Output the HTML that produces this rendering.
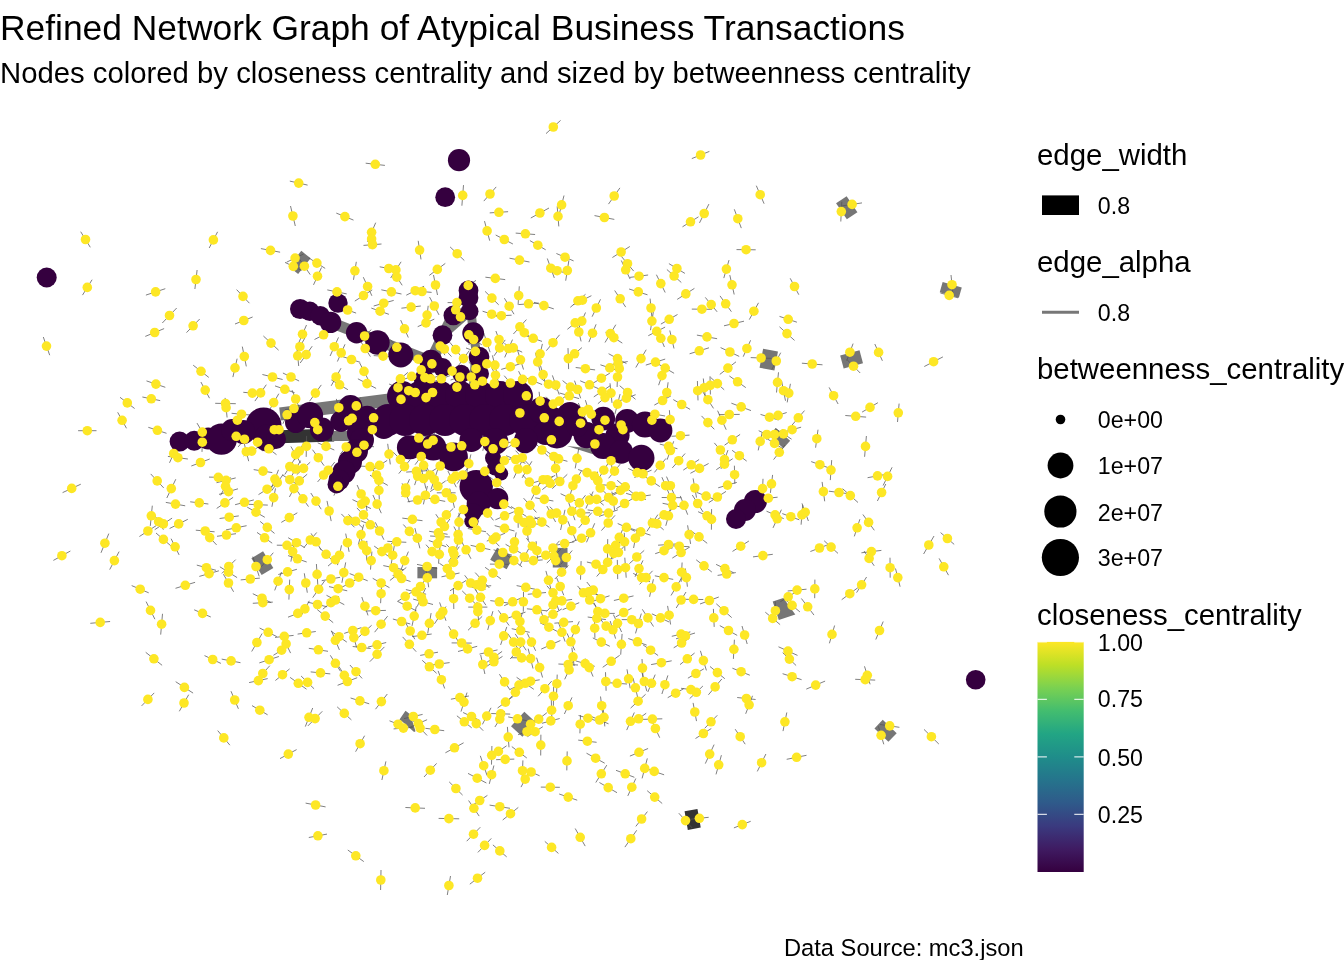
<!DOCTYPE html>
<html><head><meta charset="utf-8">
<style>
html,body{margin:0;padding:0;background:#fff;}
body{width:1344px;height:960px;position:relative;overflow:hidden;font-family:"Liberation Sans",Arial,sans-serif;color:#000;}
.t{position:absolute;white-space:nowrap;line-height:1;}
.lt{font-size:29.4px;}
.ll{font-size:23.2px;}
svg{position:absolute;left:0;top:0;}
</style></head><body>
<svg width="1344" height="960" viewBox="0 0 1344 960">
<defs>
<linearGradient id="vir" x1="0" y1="1" x2="0" y2="0">
<stop offset="0" stop-color="#35003f"/>
<stop offset="0.1" stop-color="#3f1b62"/>
<stop offset="0.2" stop-color="#3a3a7f"/>
<stop offset="0.3" stop-color="#2f5a8a"/>
<stop offset="0.4" stop-color="#25748c"/>
<stop offset="0.5" stop-color="#1f8d8a"/>
<stop offset="0.6" stop-color="#22a584"/>
<stop offset="0.7" stop-color="#43bd6f"/>
<stop offset="0.8" stop-color="#7ad151"/>
<stop offset="0.9" stop-color="#bddf26"/>
<stop offset="1" stop-color="#fde725"/>
</linearGradient>
</defs>
<g id="graph">
<path d="M330.6 322.4 L431 361.3" stroke="#777" stroke-width="11" fill="none" stroke-linecap="butt"/>
<path d="M300 309 L330 322" stroke="#555" stroke-width="6" fill="none" stroke-linecap="butt"/>
<path d="M453.4 315.4 L431 361.3" stroke="#777" stroke-width="12" fill="none" stroke-linecap="butt"/>
<path d="M469.6 311.3 L442.5 335.2" stroke="#777" stroke-width="9" fill="none" stroke-linecap="butt"/>
<path d="M473.2 333.1 L476 350 L473 392" stroke="#777" stroke-width="9" fill="none" stroke-linecap="butt"/>
<path d="M470 300 L473.2 333.1" stroke="#777" stroke-width="9" fill="none" stroke-linecap="butt"/>
<path d="M280 414 L405 398" stroke="#777" stroke-width="13" fill="none" stroke-linecap="butt"/>
<path d="M272 437 L334 435" stroke="#333" stroke-width="13" fill="none" stroke-linecap="butt"/>
<path d="M332 436 L352 436" stroke="#777" stroke-width="10" fill="none" stroke-linecap="butt"/>
<polygon points="567,446 608,450 608,459" fill="#777"/>
<rect x="293.7" y="252.4" width="12.0" height="20.0" fill="#767676" transform="rotate(38.7 299.7 262.4)"/>
<rect x="840.4" y="198.1" width="12.7" height="19.4" fill="#767676" transform="rotate(-33.7 846.7 207.8)"/>
<rect x="761.2" y="349.9" width="15.1" height="19.4" fill="#767676" transform="rotate(10.6 768.8 359.6)"/>
<rect x="770.0" y="433.0" width="19.2" height="10.2" fill="#767676" transform="rotate(41.5 779.6 438.1)"/>
<rect x="841.6" y="352.6" width="20.0" height="13.5" fill="#767676" transform="rotate(-14.9 851.6 359.4)"/>
<rect x="940.8" y="284.6" width="19.9" height="10.5" fill="#767676" transform="rotate(16 950.7 289.9)"/>
<rect x="255.5" y="553.3" width="13.7" height="19.6" fill="#767676" transform="rotate(-31.6 262.4 563.1)"/>
<rect x="417.4" y="567.0" width="19.7" height="11.3" fill="#767676" transform="rotate(0 427.3 572.6)"/>
<rect x="552.8" y="547.9" width="14.7" height="19.6" fill="#767676" transform="rotate(0 560.1 557.7)"/>
<rect x="494.9" y="548.9" width="13.9" height="19.0" fill="#767676" transform="rotate(-60 501.9 558.4)"/>
<rect x="513.6" y="716.5" width="19.6" height="15.5" fill="#767676" transform="rotate(-47.2 523.4 724.3)"/>
<rect x="879.6" y="721.1" width="11.9" height="19.4" fill="#767676" transform="rotate(-46 885.6 730.8)"/>
<rect x="686.1" y="809.9" width="13.1" height="19.0" fill="#333" transform="rotate(-9.9 692.6 819.4)"/>
<polygon points="772.7,601.6 783.4,598 795.3,614.6 778.8,620.1" fill="#767676"/>
<polygon points="405.5,710.8 410.4,714.5 415.5,731.2 414.1,732 402.8,722.1 399.5,719.6" fill="#767676"/>
<path d="M80.7 231.7L90.3 247.3M217.6 231.8L209.2 248.0M197.1 270.0L194.9 289.0M260.9 248.6L280.1 252.2M365.7 163.2L384.9 165.4M289.8 181.1L307.6 185.1M290.5 206.0L295.3 226.0M336.3 213.1L353.5 220.1M375.7 222.7L367.5 241.9M373.9 229.7L369.3 248.3M381.5 244.0L363.5 245.4M303.6 254.0L286.6 262.2M285.0 262.4L301.6 270.4M298.6 257.8L310.2 274.6M308.6 257.8L325.2 268.4M321.5 267.5L313.5 284.9M356.3 261.8L353.5 279.8M379.7 266.8L397.9 270.2M401.1 261.8L390.7 278.0M391.4 268.9L402.2 285.3M418.2 240.8L421.0 259.4M445.3 263.4L429.3 275.4M450.1 246.9L464.3 260.5M463.5 185.1L461.9 205.7M496.2 186.9L483.8 201.1M508.1 211.7L489.7 212.9M484.5 221.1L489.7 240.7M495.7 235.0L512.9 244.0M485.4 277.2L505.2 279.6M560.6 120.4L546.0 133.6M709.4 151.4L691.8 158.6M619.9 187.9L608.5 204.1M564.0 195.5L559.2 214.3M549.0 208.0L530.8 218.0M557.2 206.4L558.8 226.4M594.5 215.6L614.3 219.4M708.9 204.1L699.5 222.9M698.5 216.8L682.5 226.8M734.3 209.3L741.3 228.1M515.7 233.1L535.1 234.5M529.9 240.6L545.7 249.8M509.5 258.2L529.5 262.0M556.4 253.5L573.6 260.9M547.3 258.5L554.3 277.9M547.7 268.3L566.5 273.1M568.9 260.3L565.7 280.7M629.8 246.5L612.4 257.5M621.3 256.3L633.7 271.1M621.3 260.5L630.1 279.1M648.1 275.0L629.9 277.4M668.9 263.6L684.9 273.4M666.9 269.5L681.3 282.5M729.0 260.1L723.8 278.1M736.5 249.6L755.7 249.8M756.3 185.7L764.1 203.7M862.0 202.9L842.2 205.9M841.8 201.7L840.8 221.5M92.1 279.7L82.5 295.1M165.3 288.7L145.9 295.1M164.1 328.6L145.3 336.4M43.3 337.0L49.7 355.2M146.5 380.9L165.3 387.3M142.4 397.0L160.2 400.6M120.0 397.3L134.6 408.5M117.7 412.3L126.5 428.3M78.1 430.7L96.5 430.7M148.3 427.3L166.5 433.3M801.9 363.2L822.5 364.8M853.1 343.6L846.7 360.8M846.8 359.4L860.2 373.0M874.8 344.0L882.4 360.8M942.9 356.9L924.3 366.5M951.0 275.0L953.0 294.4M940.4 293.0L958.0 297.8M829.1 387.4L838.1 404.0M877.9 402.7L862.1 412.1M845.3 415.5L866.1 417.1M899.1 403.6L897.5 422.0M818.0 429.7L815.6 447.7M866.4 436.0L864.6 456.8M80.8 484.2L62.6 492.6M150.7 473.9L163.7 487.9M247.2 507.1L264.8 517.3M152.3 505.7L150.3 525.9M153.8 513.7L163.4 529.7M172.1 518.1L154.7 529.7M187.8 519.3L169.6 528.5M156.4 525.5L139.4 536.5M156.0 533.0L170.8 545.8M171.1 538.7L179.1 554.9M195.8 530.2L214.6 531.8M202.8 530.3L216.6 544.9M238.8 515.9L219.6 518.5M246.6 525.7L226.0 529.9M236.0 533.7L217.0 536.3M260.1 521.4L274.5 533.4M257.0 532.4L272.2 543.2M108.8 533.6L101.0 552.8M70.4 551.0L53.4 560.4M119.1 551.6L109.7 569.6M196.8 565.1L216.0 570.3M218.9 570.8L199.3 576.4M235.7 559.6L221.9 573.4M219.9 566.8L237.1 577.6M223.4 574.2L233.6 591.8M259.9 578.1L240.7 579.9M252.8 556.6L259.2 576.4M273.3 552.7L261.3 566.7M131.7 585.6L148.7 592.8M195.1 582.3L175.5 588.3M252.8 593.7L271.2 602.7M272.8 602.1L252.8 603.3M146.1 601.6L154.9 619.2M194.2 609.8L210.8 617.0M110.1 621.5L90.3 623.3M162.5 613.8L160.7 634.6M327.0 500.9L331.2 521.1M297.3 512.8L281.3 522.4M341.3 513.9L354.5 527.3M348.4 514.4L362.8 528.0M356.9 507.9L370.1 521.9M360.8 520.7L379.8 528.9M375.3 522.3L383.9 539.7M363.7 524.6L358.3 544.6M360.5 535.2L365.7 555.4M366.8 540.9L366.6 560.5M371.9 551.6L370.5 569.6M345.7 533.6L349.1 551.8M276.8 545.2L297.2 545.4M288.2 537.7L304.8 547.7M316.7 532.5L303.9 547.5M311.1 533.4L321.3 550.2M294.5 541.6L290.9 561.6M288.1 555.6L306.7 562.0M319.4 547.7L332.8 560.9M342.8 553.3L328.0 566.1M341.5 545.3L337.5 565.1M296.9 569.3L278.3 574.5M281.5 572.0L274.7 590.4M289.7 579.6L288.9 599.6M304.3 573.3L307.3 592.7M316.4 564.0L317.8 584.8M324.7 580.8L312.7 597.6M340.1 577.3L321.7 580.7M345.7 562.4L341.9 582.8M357.8 578.6L341.6 587.4M349.7 573.6L367.7 580.8M329.0 586.6L347.2 590.8M307.8 602.2L327.2 606.8M339.0 596.2L322.8 609.2M326.5 595.3L344.3 604.7M309.3 600.8L300.5 617.0M307.6 609.6L288.0 617.2M317.2 609.5L333.2 622.7M361.8 597.0L368.0 615.4M385.9 610.4L365.5 611.0M372.7 578.3L389.5 587.7M381.6 584.2L380.6 603.2M374.2 546.1L389.6 557.1M393.7 541.1L382.1 554.9M394.3 545.7L391.1 564.7M387.3 541.3L406.3 542.3M408.4 551.6L401.0 569.6M383.3 565.6L403.9 569.8M406.3 567.5L389.9 580.5M392.7 575.5L410.5 581.5M402.3 518.1L422.5 520.7M403.3 524.5L415.5 538.3M414.9 528.1L419.9 548.3M413.1 591.3L397.3 601.5M397.9 601.5L416.5 610.9M416.4 606.3L412.0 625.9M392.9 619.0L410.3 624.0M425.9 578.5L415.1 594.5M405.9 589.6L426.1 594.2M425.6 588.0L417.2 606.6M413.2 599.1L433.0 604.5M417.0 564.4L437.2 568.6M425.9 568.5L428.7 587.3M431.1 613.1L427.7 633.5M426.0 544.7L438.2 558.5M440.1 545.0L438.5 563.6M428.8 540.5L446.2 546.7M429.2 531.3L447.6 534.3M435.8 514.2L446.4 530.0M453.3 508.4L439.5 521.4M459.0 512.8L459.0 531.4M453.9 526.6L462.3 542.6M446.3 544.3L459.1 557.1M460.2 555.1L447.0 569.7M439.3 563.2L455.3 574.0M459.5 573.0L441.5 576.8M466.2 580.4L450.0 590.8M453.4 588.4L453.8 609.0M439.6 602.4L446.0 620.8M446.0 606.5L434.4 623.9M461.2 540.8L471.0 558.8M469.4 501.6L457.4 517.4M470.5 513.0L476.1 531.2M467.8 528.5L486.0 531.7M470.6 545.3L490.4 549.7M486.6 532.9L499.4 546.3M494.7 525.6L514.5 531.0M513.8 511.8L495.4 519.8M481.7 505.8L493.5 520.4M464.7 575.3L476.5 590.7M468.4 580.2L485.4 589.4M475.2 572.6L489.4 588.0M491.2 585.7L471.6 587.3M462.2 590.9L477.2 605.5M475.1 589.4L485.9 605.2M468.2 607.1L487.4 607.1M477.0 601.9L478.6 621.3M485.1 567.3L500.9 578.9M489.9 564.1L508.7 564.3M493.6 549.8L512.0 555.2M490.3 600.6L508.3 603.0M498.3 610.3L509.1 625.5M492.9 611.2L487.7 630.0M482.2 616.3L468.0 630.3M387.6 616.2L374.6 632.2M568.6 502.4L575.0 520.2M590.0 512.7L571.6 513.5M591.7 512.7L578.7 527.9M587.6 509.9L608.0 512.7M617.9 509.8L599.1 516.4M615.0 515.4L601.4 530.6M698.1 511.7L715.9 519.9M711.6 509.1L711.4 529.7M672.4 509.0L655.6 520.8M671.2 505.8L665.8 525.8M657.9 514.6L646.9 531.4M650.1 517.9L663.7 529.9M617.7 523.5L635.1 531.3M631.1 528.6L650.5 535.2M637.2 528.4L633.6 548.0M623.2 528.1L615.4 546.5M624.3 532.8L624.9 550.8M623.8 539.3L607.6 551.3M607.7 539.1L607.5 558.7M618.3 545.4L609.5 561.4M624.8 545.6L612.0 559.4M586.9 562.0L605.1 566.4M608.9 562.5L596.7 576.5M614.8 554.8L600.4 570.0M617.3 559.9L617.7 579.1M624.8 557.7L626.2 577.7M644.2 550.4L629.4 563.6M643.0 560.4L635.0 576.8M633.2 573.4L650.0 581.8M652.6 570.8L639.6 584.4M653.4 579.2L649.6 596.8M654.8 575.8L673.2 579.4M681.4 578.3L671.0 595.5M686.0 592.0L676.2 608.0M682.1 562.5L681.1 581.9M685.4 568.5L687.4 586.7M672.8 547.7L655.2 553.7M678.9 543.8L658.1 545.2M669.6 545.7L689.0 546.7M689.9 546.9L672.3 558.1M687.6 525.3L690.6 543.9M690.8 530.5L707.2 543.3M696.2 559.8L711.8 572.0M716.1 564.4L733.7 572.8M735.8 572.6L717.6 575.4M748.9 541.0L732.5 551.4M718.8 597.0L700.0 604.0M716.3 603.8L731.7 617.6M713.4 608.9L714.2 626.9M683.9 599.3L703.3 599.5M667.6 605.9L670.6 624.5M651.9 613.8L669.1 622.0M642.3 609.3L653.5 626.5M621.7 619.6L641.9 619.8M631.7 608.1L615.7 616.9M633.5 595.9L613.9 600.5M609.5 595.8L591.5 601.6M594.1 602.8L601.5 620.4M614.8 613.4L595.0 613.4M613.4 614.6L621.6 632.0M577.5 585.9L589.3 599.7M579.1 588.7L598.5 595.1M586.8 582.0L599.8 598.2M583.0 593.4L596.4 606.6M581.1 561.1L580.5 579.7M567.8 521.1L575.8 540.3M591.1 534.6L572.1 541.8M594.7 523.3L586.5 542.3M574.3 541.8L554.9 545.4M572.2 550.5L560.6 564.5M559.5 540.8L546.5 555.2M561.0 549.1L546.8 563.1M550.1 553.5L561.3 567.7M554.7 553.1L536.9 557.3M536.1 541.2L537.7 560.2M526.4 538.1L538.4 554.3M542.7 559.9L523.9 561.3M528.7 548.7L519.9 565.3M516.2 532.4L512.8 551.2M505.6 544.3L521.6 553.5M505.7 554.3L522.1 566.9M518.0 509.2L518.2 527.8M539.7 517.3L519.7 523.3M525.6 521.9L528.4 540.1M534.4 516.9L549.4 527.3M546.8 506.0L555.6 522.0M549.7 506.7L563.5 519.5M565.0 509.8L560.6 530.0M568.4 565.4L554.8 579.0M545.9 570.9L551.1 589.7M556.6 577.7L563.8 595.3M516.6 585.6L535.0 589.2M546.0 592.5L527.8 594.3M523.5 591.9L523.3 611.7M521.2 597.9L504.2 605.7M546.8 585.7L559.2 599.9M552.7 591.7L558.7 610.1M572.1 599.4L551.7 602.4M579.2 602.7L562.6 609.7M526.9 608.8L546.9 610.8M525.5 612.1L507.1 618.3M522.3 612.8L517.5 630.2M540.5 609.9L547.5 629.5M561.8 608.9L544.2 619.7M573.0 621.6L554.4 623.2M811.2 461.6L828.6 467.8M831.7 460.1L830.3 480.1M887.4 474.1L867.6 477.7M892.1 467.3L883.1 485.5M822.1 481.9L824.7 501.3M828.9 491.2L849.1 493.8M842.6 488.7L858.0 502.5M885.8 484.0L877.4 501.0M766.5 511.2L783.7 518.6M781.4 509.7L773.0 527.9M782.3 513.6L799.3 519.8M802.7 505.1L801.1 524.7M802.0 503.4L808.4 521.0M859.9 519.2L854.3 536.4M862.9 514.5L874.3 530.3M772.8 554.3L753.0 556.9M828.6 544.5L810.4 551.5M824.2 540.8L838.0 553.4M881.4 550.4L861.4 552.8M864.0 551.0L874.2 565.8M890.0 557.7L890.2 577.7M895.5 568.5L900.1 586.7M934.0 536.0L923.6 554.0M940.6 532.6L954.2 544.4M939.1 558.4L948.5 575.2M866.6 577.0L856.6 592.6M857.9 587.7L841.7 599.7M814.9 579.6L814.7 598.2M806.5 589.2L787.7 591.0M796.1 591.8L780.3 601.8M784.3 598.9L799.9 611.9M801.4 598.5L814.0 615.1M775.3 601.4L775.5 620.0M765.3 612.2L780.1 624.6M262.1 633.5L251.7 651.5M259.6 628.0L276.8 636.6M145.7 652.3L162.1 665.3M204.5 655.6L220.9 663.4M221.7 659.1L240.5 662.7M278.9 656.5L259.3 662.9M269.8 665.7L255.8 681.3M267.7 678.6L249.1 682.6M175.7 681.7L193.1 693.1M154.2 692.9L141.6 705.9M188.7 694.7L179.3 711.3M231.0 691.2L238.4 708.8M252.0 705.6L267.6 714.8M217.7 730.6L229.9 745.2M315.8 631.5L297.6 634.1M293.6 635.4L275.0 637.4M281.6 634.7L290.6 653.1M289.8 645.1L273.4 655.3M308.8 648.3L328.0 651.3M331.4 630.7L339.4 649.9M331.2 631.3L346.8 642.1M361.4 627.6L344.2 633.4M351.0 627.8L356.6 647.4M371.6 625.3L358.2 637.5M352.7 646.5L370.7 648.5M386.2 642.5L368.0 647.1M384.4 646.9L369.8 661.7M405.6 622.8L414.8 639.2M431.7 634.0L412.1 636.6M402.6 636.9L416.2 651.7M448.5 626.2L458.7 642.0M451.6 642.9L471.8 643.1M477.2 646.3L458.0 651.5M438.0 652.2L420.2 655.4M422.2 660.3L436.6 673.3M449.6 662.6L429.0 665.4M438.1 670.9L444.7 688.5M480.7 655.0L484.9 674.0M497.5 649.9L479.5 654.1M502.1 651.4L485.7 663.2M502.5 656.4L485.3 667.2M506.8 626.9L500.6 644.9M330.3 655.3L340.5 671.3M289.6 668.9L275.4 680.5M290.1 677.4L306.5 689.2M301.1 676.0L314.1 688.8M310.7 671.9L330.3 673.9M338.9 666.4L349.7 684.2M357.2 677.7L337.6 685.3M349.9 665.0L362.1 678.4M350.6 698.0L369.2 703.8M387.3 694.0L375.5 709.2M337.2 706.9L351.4 719.9M312.7 708.0L305.3 726.6M322.3 711.3L307.9 725.9M364.6 735.7L355.6 751.7M296.6 749.6L280.0 758.6M385.9 761.4L381.9 780.0M436.6 763.4L424.0 777.0M449.2 781.9L462.6 795.1M468.0 773.4L486.4 783.0M493.9 765.5L489.3 783.9M480.3 755.8L487.1 775.6M491.9 746.0L491.5 764.6M506.6 745.8L490.2 757.0M514.3 759.1L496.1 759.7M507.4 726.9L509.0 747.3M463.6 742.8L445.4 752.8M425.4 728.3L444.2 730.7M389.5 720.8L406.7 727.6M413.2 727.3L393.6 728.9M422.6 714.4L404.0 718.6M427.1 719.7L409.5 727.5M413.1 720.7L427.1 735.5M468.9 696.0L450.9 699.2M467.0 692.6L461.0 711.6M456.9 715.8L471.7 727.8M463.1 712.5L479.9 720.5M469.4 716.5L483.2 730.7M491.0 707.8L482.4 724.4M491.2 713.5L510.2 714.1M504.7 711.2L494.9 727.0M499.4 674.2L509.8 689.6M513.4 696.2L497.6 708.0M511.7 628.7L529.7 632.3M558.7 623.0L565.1 641.6M579.3 621.3L571.5 637.9M719.8 625.6L737.2 635.4M742.0 626.0L747.2 644.0M507.7 633.5L519.5 650.7M515.2 633.9L526.2 650.3M527.3 633.4L535.7 650.8M560.4 640.5L541.2 649.1M567.0 633.3L574.8 650.3M522.4 645.0L510.2 659.0M511.2 657.7L532.0 658.1M528.2 648.7L533.0 668.5M536.6 657.7L542.6 677.5M571.9 647.6L574.1 666.0M558.4 664.0L578.0 665.0M573.5 660.5L564.7 679.3M575.7 660.9L594.7 666.3M585.3 658.6L593.1 676.6M592.8 637.9L609.8 646.3M622.1 633.9L620.7 654.7M628.3 638.5L646.7 645.1M619.7 655.3L602.7 667.3M643.1 644.9L658.1 655.5M671.7 660.8L651.1 664.6M642.0 659.0L643.0 677.2M690.4 631.9L671.8 636.3M695.0 633.0L676.0 638.8M689.5 638.2L673.7 647.8M694.6 653.0L680.0 664.6M700.4 650.8L706.4 670.4M703.9 668.8L687.9 678.2M710.0 666.5L724.8 678.7M734.4 639.7L733.4 658.9M732.4 668.2L749.8 675.2M721.8 679.0L708.4 694.8M681.1 688.3L700.7 690.9M702.9 686.0L689.7 698.6M683.7 688.7L667.7 697.7M667.9 675.4L661.9 694.0M655.2 674.6L647.8 692.0M641.8 671.9L646.8 691.1M633.1 678.1L637.7 697.5M627.0 669.3L630.2 688.3M607.2 682.6L627.0 684.0M605.5 672.2L606.1 690.8M645.6 694.3L630.6 708.1M600.5 696.5L602.9 714.9M603.2 708.2L604.8 726.4M590.7 716.2L608.5 723.8M578.6 715.5L597.2 720.9M580.5 715.1L579.9 733.3M572.0 697.4L564.4 714.0M551.7 681.1L538.1 696.3M557.2 674.6L556.6 692.8M553.6 686.6L553.4 705.8M539.7 679.8L521.5 682.6M528.5 680.5L509.5 689.7M522.2 684.7L508.6 699.9M516.6 677.3L533.8 689.3M551.3 699.8L551.9 720.6M559.7 718.5L541.9 723.3M546.9 712.7L530.5 725.5M508.2 716.9L526.8 720.7M537.3 717.8L523.9 730.6M535.9 728.7L518.1 734.7M542.8 726.7L527.4 736.7M540.9 734.7L540.7 755.5M511.8 746.6L526.8 758.0M567.2 751.4L566.8 770.4M578.2 740.1L596.6 742.3M586.5 753.2L604.7 763.2M606.8 765.1L595.8 782.5M599.4 782.5L617.0 792.7M616.0 770.3L634.4 777.3M635.8 778.5L627.8 795.9M648.1 748.5L629.9 756.1M647.3 758.4L642.1 778.4M644.3 768.0L664.1 774.8M634.3 712.5L626.7 730.1M646.2 713.2L631.0 724.4M662.3 718.8L642.5 719.4M651.1 719.3L659.7 737.7M693.1 702.9L696.5 721.1M717.3 715.3L704.7 728.3M711.3 728.5L695.5 738.5M714.1 744.6L705.3 763.6M721.4 755.2L716.0 774.4M735.2 729.2L745.2 744.2M737.2 697.5L755.6 699.5M752.5 695.8L745.7 713.8M522.9 760.4L522.1 781.0M522.6 768.2L539.6 775.8M529.4 771.1L521.0 787.1M540.8 787.1L559.8 787.3M559.2 794.0L577.2 800.2M647.2 790.7L662.2 803.5M834.6 625.5L829.4 643.3M883.2 621.5L875.8 639.5M778.5 646.8L797.5 655.4M782.7 652.7L796.1 665.5M782.6 673.7L801.6 679.7M825.1 681.1L806.3 689.1M864.5 666.3L870.1 684.3M855.2 679.3L875.2 680.1M786.8 712.5L783.0 731.1M765.9 754.0L757.3 771.4M806.5 755.3L786.7 759.3M924.0 729.4L938.8 744.0M880.0 724.5L899.4 727.3M878.4 726.3L883.8 744.3M305.6 803.1L325.6 806.9M405.4 807.5L425.0 808.3M327.0 834.1L308.8 837.5M347.8 850.0L363.8 861.6M381.0 870.0L380.6 890.0M487.4 795.4L472.0 805.6M468.6 800.5L479.2 816.1M489.6 805.1L510.0 808.3M518.3 807.4L502.7 820.0M438.6 818.4L459.2 818.8M480.3 827.2L466.7 841.2M491.3 838.4L477.9 852.4M492.9 844.9L506.7 856.9M544.8 841.4L558.4 853.4M575.2 828.5L585.2 846.1M636.7 830.3L624.9 847.1M647.4 811.6L635.8 826.4M450.5 876.0L447.3 895.0M485.2 872.2L469.8 884.2M678.8 813.2L692.2 828.0M708.7 817.3L690.1 819.3M750.7 821.3L733.9 827.9M236.6 289.6L249.4 303.2M176.7 308.0L162.3 323.0M199.7 319.0L186.5 332.6M252.6 317.0L235.0 324.0M263.4 336.0L278.6 350.2M306.5 325.0L298.5 343.4M305.1 337.6L294.7 355.8M296.7 345.6L298.7 366.0M312.2 346.2L300.2 363.0M242.3 346.6L246.3 366.4M237.1 358.7L232.9 377.1M193.2 365.2L208.8 377.4M262.4 374.5L282.6 379.5M282.9 373.0L299.1 381.0M275.0 385.9L294.6 392.7M200.9 382.0L209.5 398.2M243.3 392.3L261.3 393.9M266.3 384.7L254.9 401.1M321.3 384.9L309.5 401.3M327.3 289.9L346.7 293.9M363.3 277.2L371.9 295.8M372.2 289.9L354.8 301.1M381.3 289.8L401.5 294.0M393.7 300.4L373.7 306.0M371.3 308.1L388.9 314.3M339.1 306.9L356.1 313.1M332.7 330.1L314.5 339.5M338.5 337.4L330.1 356.0M345.0 344.3L337.4 361.5M342.8 356.7L360.2 362.3M371.3 329.6L357.9 342.4M360.0 340.4L370.4 356.6M373.7 355.6L392.5 356.8M390.4 339.5L403.2 355.1M400.7 320.1L408.3 337.5M420.8 306.0L401.4 308.2M424.1 286.2L406.3 295.2M412.4 290.6L431.6 292.4M433.5 275.0L437.5 295.0M429.6 297.1L439.0 314.9M428.2 305.8L426.0 324.4M434.3 319.1L417.7 326.7M476.0 280.4L460.4 290.4M447.6 302.6L466.2 302.6M463.4 302.7L448.0 316.9M450.8 316.8L470.2 317.0M468.5 324.6L469.1 345.0M465.4 334.2L481.8 344.8M435.5 337.0L444.9 355.2M437.3 341.4L451.5 356.6M449.8 342.3L461.6 356.9M469.2 350.7L457.8 366.5M466.0 348.0L484.8 354.8M408.3 356.6L428.1 361.8M437.8 355.6L426.0 372.2M424.9 361.1L417.5 378.7M421.9 368.5L427.7 386.7M439.3 375.7L422.1 381.9M449.9 375.7L432.9 381.9M444.6 365.4L459.6 376.8M469.2 374.0L450.6 380.0M467.4 367.4L475.0 386.6M468.8 362.2L483.2 375.2M457.9 377.0L455.9 397.2M481.9 377.8L467.7 391.8M359.7 363.0L368.3 379.8M357.9 378.8L376.1 388.4M341.0 368.2L331.2 385.8M331.3 379.9L347.9 389.7M407.9 372.4L392.9 385.2M389.1 384.0L406.9 391.4M420.5 373.1L402.9 379.7M400.9 385.3L416.5 396.1M421.3 384.3L409.1 400.7M424.3 388.2L440.7 396.8M485.1 291.4L498.7 304.8M519.3 286.3L518.1 304.7M504.4 298.2L514.0 314.2M538.7 303.0L518.5 304.6M534.0 302.3L553.8 308.9M482.6 311.2L500.8 317.2M511.6 315.2L491.2 316.2M526.4 319.6L513.4 334.0M516.2 326.9L532.4 338.5M524.4 335.2L542.0 341.4M495.9 331.0L502.1 348.0M483.7 332.8L490.1 352.2M505.2 339.9L494.0 355.9M512.5 339.6L504.7 357.4M504.4 343.6L522.2 352.2M517.5 350.1L523.5 369.5M519.6 364.0L501.2 369.4M542.4 343.9L537.8 363.7M535.4 352.8L540.0 371.0M559.6 334.8L546.4 350.6M585.5 294.3L570.3 307.3M591.4 295.7L573.4 304.7M600.5 299.3L592.1 316.7M614.7 290.5L625.7 307.1M629.1 289.0L647.5 294.8M583.0 316.5L567.4 329.3M585.5 312.5L578.1 329.7M576.5 322.6L581.1 341.4M596.1 324.3L588.9 342.1M615.8 324.7L605.0 342.5M605.5 332.3L622.3 343.1M581.9 347.6L567.3 360.0M568.0 348.1L568.6 369.1M575.7 367.5L595.1 369.9M608.6 353.7L626.4 363.5M627.7 361.5L608.5 365.1M600.4 364.8L619.2 371.0M620.6 358.7L618.0 378.7M617.9 367.0L617.1 387.0M609.8 373.2L593.0 383.2M540.2 364.6L546.0 384.6M540.6 378.1L556.4 390.3M552.4 375.4L559.2 394.6M522.7 376.7L542.1 384.5M518.6 371.2L526.6 387.6M504.2 375.7L516.6 390.3M477.2 363.5L496.4 364.3M492.4 355.4L497.4 374.8M491.3 366.8L499.7 383.6M474.7 374.6L490.1 387.8M503.9 381.8L484.7 385.4M562.6 380.6L578.4 393.6M574.5 380.7L580.7 398.3M580.2 380.8L598.8 388.8M610.2 385.7L593.8 396.9M610.0 383.3L612.0 402.9M619.7 385.7L635.5 399.3M656.4 274.7L665.2 292.5M694.4 288.4L677.2 299.4M650.1 298.6L651.9 317.4M653.3 312.0L650.5 330.2M677.5 314.5L660.9 324.1M665.1 327.1L648.3 335.7M657.2 329.6L664.4 347.0M669.8 330.5L674.0 348.5M691.8 309.1L712.0 309.3M705.3 297.4L717.1 311.8M720.0 295.9L731.4 311.7M729.8 275.1L734.2 294.5M758.5 302.8L749.3 319.6M744.0 321.2L724.0 325.8M696.9 335.1L717.1 338.7M709.0 347.8L689.6 353.8M720.6 347.6L739.2 356.4M750.6 340.3L743.2 356.7M750.7 357.6L771.5 358.4M780.7 352.7L771.9 369.3M779.5 316.4L796.9 322.2M779.5 326.8L794.5 340.4M790.2 278.3L798.8 294.7M665.2 359.1L645.8 365.1M656.3 362.9L674.1 373.3M665.4 366.0L658.6 385.2M646.2 349.7L635.8 367.5M736.0 361.8L719.8 374.4M729.4 376.0L745.8 387.6M778.5 372.3L776.5 392.5M781.5 380.6L785.5 400.8M790.4 383.8L787.2 402.4M710.6 377.4L724.2 389.8M710.0 376.3L710.4 394.5M703.3 378.5L705.3 396.9M697.4 381.0L698.0 400.4M668.1 382.3L665.5 402.7M215.2 403.3L235.8 403.7M225.1 397.9L227.1 417.5M278.8 393.7L268.6 411.5M292.0 390.1L299.4 407.9M302.9 407.4L284.9 409.6M291.3 405.8L282.9 423.8M231.6 413.3L251.4 415.1M243.0 411.5L231.8 428.9M197.0 423.1L207.6 441.1M202.6 432.5L202.0 451.9M244.8 433.4L227.6 439.2M250.8 431.5L238.2 446.9M252.6 433.2L262.6 451.2M270.3 420.8L278.3 438.6M279.8 419.6L278.2 439.8M261.3 442.9L276.5 454.7M243.9 442.2L248.7 461.2M259.8 446.2L243.6 456.0M323.0 417.7L306.6 427.5M317.8 420.3L317.6 439.1M306.6 435.9L306.2 456.9M304.1 442.1L294.5 460.1M290.9 446.5L300.5 462.9M312.5 449.7L324.1 465.7M177.9 444.2L169.5 462.8M167.9 456.4L187.9 459.0M209.7 459.0L191.3 466.0M253.7 469.6L272.3 472.6M209.0 477.1L227.6 477.5M235.7 477.9L216.5 482.7M230.4 477.3L220.6 495.3M238.0 488.8L219.0 494.4M278.5 469.8L271.3 488.4M283.0 474.6L271.6 490.8M294.8 458.7L284.8 474.5M300.6 460.6L290.8 477.4M310.2 462.2L296.8 474.6M282.2 474.8L297.4 484.6M307.2 474.2L291.4 487.6M298.4 480.2L289.4 497.0M275.7 483.8L258.5 494.6M275.5 488.4L271.9 506.8M297.3 491.0L308.5 506.6M310.8 493.0L321.2 509.2M175.8 479.2L166.8 498.0M165.8 502.4L185.2 505.8M190.2 501.8L208.4 504.0M233.1 497.4L216.7 508.4M253.9 499.9L235.1 504.7M248.6 504.3L267.8 505.1M404.0 389.4L398.0 409.4M435.7 397.0L416.3 398.2M336.3 398.9L341.3 416.5M360.4 397.5L352.2 414.3M340.6 416.7L356.6 424.9M342.1 418.2L362.1 418.6M363.9 413.9L383.3 421.7M362.5 426.9L382.3 432.5M317.7 442.8L334.3 450.0M352.2 439.8L340.2 454.2M363.1 445.4L350.7 459.2M354.0 443.6L374.0 446.8M334.7 462.1L321.9 478.3M329.6 468.1L317.6 481.9M341.9 477.0L333.9 495.6M387.7 443.8L390.3 464.4M393.1 452.0L407.7 467.0M410.2 459.6L398.8 473.6M360.0 466.1L380.0 467.1M387.2 460.4L371.8 470.4M370.9 466.6L382.1 483.4M370.0 475.2L387.8 485.4M378.5 481.3L379.3 499.5M357.1 485.0L365.1 503.0M363.3 491.3L367.1 510.9M352.5 499.6L370.9 508.6M372.9 495.0L381.3 513.2M409.5 479.2L401.9 496.8M402.1 483.3L409.3 502.3M427.6 498.2L407.6 501.8M427.4 486.0L423.4 504.4M424.6 497.4L445.2 501.4M427.3 448.3L415.1 464.7M418.6 456.8L428.6 474.0M426.6 470.7L406.2 472.1M420.6 467.1L414.6 485.1M421.3 468.4L425.9 488.6M426.3 465.7L433.9 484.3M437.6 469.9L431.0 489.5M445.7 480.9L430.1 491.7M436.8 492.8L455.6 492.8M449.7 488.6L454.5 507.8M448.9 460.4L431.5 471.6M440.8 445.6L461.2 448.4M470.3 440.1L453.1 451.5M470.9 454.4L466.7 472.8M464.8 471.5L446.6 480.7M468.6 466.3L457.2 483.7M447.9 471.0L456.3 487.2M434.8 430.3L431.4 450.5M419.5 438.0L435.9 450.0M427.9 436.0L409.7 440.0M529.7 386.3L523.1 405.3M539.1 391.8L541.1 410.4M546.1 396.8L560.3 411.4M566.9 395.2L551.5 407.0M559.5 393.0L579.1 398.6M612.1 391.5L597.9 403.7M620.1 394.1L614.9 414.1M635.6 394.7L617.2 401.7M519.2 403.1L520.6 422.9M536.6 412.6L552.0 423.0M550.7 416.0L567.7 426.8M578.3 403.0L586.5 420.8M585.4 400.2L591.2 418.8M583.2 410.1L599.4 418.3M590.2 423.1L571.0 423.3M595.6 416.9L614.4 423.5M606.2 424.0L591.8 435.4M624.0 415.9L618.2 434.1M623.5 420.7L622.3 438.7M584.5 442.9L605.3 445.1M560.3 435.8L542.5 443.8M486.8 432.4L482.8 450.8M500.5 442.6L485.7 455.0M513.8 441.7L493.8 445.1M523.9 437.2L506.3 448.4M535.6 443.5L548.2 456.5M546.3 451.0L561.3 462.0M549.8 456.5L567.4 461.3M578.8 448.2L575.2 468.4M609.6 450.4L612.4 471.0M513.1 458.2L495.7 463.2M503.1 459.3L497.3 477.5M506.0 455.7L525.4 463.3M515.5 450.6L529.1 464.8M522.6 459.6L513.6 478.4M531.9 461.3L522.1 477.9M554.1 459.3L557.1 477.5M495.2 470.3L474.4 472.5M489.8 476.9L503.6 488.5M522.8 475.2L536.0 489.0M553.0 476.6L533.2 482.8M555.2 475.3L539.4 484.1M558.1 477.0L542.3 489.6M540.7 481.0L531.3 499.8M535.2 497.8L553.4 501.0M567.3 474.3L552.3 488.7M581.4 471.1L571.4 487.1M575.8 476.0L570.0 495.4M578.1 469.5L596.1 475.7M587.9 469.5L600.7 482.7M597.4 471.7L598.4 490.1M593.5 481.7L606.9 494.3M608.6 462.5L599.0 477.9M620.4 463.9L608.6 478.3M600.7 484.5L621.3 486.9M617.2 480.3L633.2 493.5M629.9 486.2L611.1 494.6M628.3 468.5L645.9 476.7M626.1 493.3L645.9 499.5M617.3 492.9L599.9 502.3M611.9 491.7L614.7 510.5M632.9 498.4L616.3 508.6M593.1 491.5L585.9 508.5M589.7 493.6L603.7 505.2M585.5 495.2L573.3 510.6M560.6 493.7L579.2 502.7M523.6 498.2L536.4 512.4M495.5 499.7L512.1 508.5M670.9 395.9L654.3 405.1M673.3 399.6L690.1 409.4M702.3 391.0L713.5 408.4M731.4 403.2L751.0 410.6M644.7 412.4L665.1 416.0M656.6 412.2L647.2 428.2M669.4 410.2L670.8 429.0M701.5 415.9L714.3 429.3M717.6 410.7L726.2 429.7M739.7 414.4L718.9 414.6M760.5 414.4L778.5 420.0M786.7 412.5L769.5 418.3M804.5 410.6L792.1 425.0M689.5 435.1L671.5 436.3M740.1 434.4L724.5 445.2M758.7 430.7L774.9 438.3M783.0 429.6L766.0 439.4M775.4 428.6L791.6 439.2M801.1 427.2L783.1 432.2M762.2 432.4L758.2 450.4M765.9 438.0L783.1 448.8M785.0 445.0L773.6 459.6M659.8 444.1L677.4 448.7M673.7 441.3L667.1 459.7M714.3 442.9L726.5 457.1M728.0 450.1L721.0 468.9M732.7 458.7L716.3 469.7M732.1 450.3L746.7 461.1M685.1 453.5L672.3 467.9M666.0 458.4L654.4 472.4M699.1 459.5L683.3 470.1M708.6 463.5L690.4 473.3M734.4 465.7L734.8 483.7M736.8 482.4L718.2 487.8M651.6 470.1L634.4 477.5M642.8 475.2L659.8 486.6M661.9 477.2L669.3 494.2M666.5 476.6L674.3 494.8M661.7 497.5L681.3 497.7M693.1 478.4L696.5 497.6M696.7 492.4L715.5 499.8M726.0 491.4L708.8 502.6M692.3 495.0L703.1 512.0M680.3 495.9L687.7 514.7M662.6 503.3L682.8 507.3M650.8 495.0L631.6 497.8M763.0 478.8L762.2 498.4M772.6 474.9L770.4 492.9M777.6 497.2L759.0 499.2M511.1 506.5L526.5 516.5M516.8 515.3L531.2 529.7M522.4 522.6L540.6 524.4M449.9 519.0L439.1 534.0M430.1 536.0L449.9 537.0M460.8 530.5L456.2 549.5M459.3 546.7L448.5 561.5M505.2 533.1L486.8 541.1M587.7 617.0L605.9 619.6M594.5 618.5L594.9 637.9M600.2 619.0L612.0 633.2M610.2 621.0L615.6 638.6M641.3 613.6L635.5 633.4M540.1 622.8L557.7 631.6M559.5 598.2L546.5 611.4" stroke="#555" stroke-width="1" stroke-opacity="0.75" fill="none"/>
<circle cx="46.7" cy="277.5" r="10.0" fill="#35003f"/>
<circle cx="459" cy="160.2" r="11.1" fill="#35003f"/>
<circle cx="445.2" cy="197.2" r="9.9" fill="#35003f"/>
<circle cx="975.7" cy="679.7" r="9.8" fill="#35003f"/>
<circle cx="179.6" cy="441.6" r="10" fill="#35003f"/>
<circle cx="194.2" cy="440.8" r="10" fill="#35003f"/>
<circle cx="208.2" cy="438.5" r="11" fill="#35003f"/>
<circle cx="221.4" cy="439.2" r="15.6" fill="#35003f"/>
<circle cx="232" cy="430" r="11" fill="#35003f"/>
<circle cx="263.6" cy="425.4" r="17.9" fill="#35003f"/>
<circle cx="267.1" cy="437.9" r="13.4" fill="#35003f"/>
<circle cx="276" cy="439" r="10" fill="#35003f"/>
<circle cx="295.7" cy="422.4" r="10.7" fill="#35003f"/>
<circle cx="310" cy="415.2" r="13.1" fill="#35003f"/>
<circle cx="321.9" cy="429.5" r="11.9" fill="#35003f"/>
<circle cx="341" cy="421.2" r="10.7" fill="#35003f"/>
<circle cx="350.5" cy="406.9" r="11.9" fill="#35003f"/>
<circle cx="367.1" cy="417.6" r="11.9" fill="#35003f"/>
<circle cx="360" cy="433.1" r="13.1" fill="#35003f"/>
<circle cx="383.8" cy="427.1" r="11.9" fill="#35003f"/>
<circle cx="394.5" cy="417.6" r="13.1" fill="#35003f"/>
<circle cx="408.8" cy="447.4" r="11.9" fill="#35003f"/>
<circle cx="362" cy="440" r="12" fill="#35003f"/>
<circle cx="356" cy="451" r="12" fill="#35003f"/>
<circle cx="350" cy="462" r="12" fill="#35003f"/>
<circle cx="344" cy="472" r="11.5" fill="#35003f"/>
<circle cx="339" cy="480" r="10.5" fill="#35003f"/>
<circle cx="336.5" cy="484.5" r="9" fill="#35003f"/>
<circle cx="300.1" cy="309" r="10.1" fill="#35003f"/>
<circle cx="309.8" cy="311.3" r="9.7" fill="#35003f"/>
<circle cx="320.2" cy="315.7" r="9.7" fill="#35003f"/>
<circle cx="330.6" cy="322.4" r="10.7" fill="#35003f"/>
<circle cx="338" cy="303.1" r="9.7" fill="#35003f"/>
<circle cx="356.6" cy="332.8" r="10.7" fill="#35003f"/>
<circle cx="377.5" cy="342.5" r="12.2" fill="#35003f"/>
<circle cx="400.8" cy="355" r="12.5" fill="#35003f"/>
<circle cx="468.5" cy="290.4" r="9.9" fill="#35003f"/>
<circle cx="468.5" cy="297.7" r="9.9" fill="#35003f"/>
<circle cx="469.6" cy="311.3" r="8.9" fill="#35003f"/>
<circle cx="453.4" cy="315.4" r="9.9" fill="#35003f"/>
<circle cx="442.5" cy="335.2" r="9.9" fill="#35003f"/>
<circle cx="473.2" cy="333.1" r="10.9" fill="#35003f"/>
<circle cx="479" cy="357.1" r="10.4" fill="#35003f"/>
<circle cx="431" cy="361.3" r="11.5" fill="#35003f"/>
<circle cx="442.5" cy="367.5" r="9.4" fill="#35003f"/>
<circle cx="461.3" cy="373.8" r="9" fill="#35003f"/>
<circle cx="480" cy="373.8" r="9" fill="#35003f"/>
<circle cx="424.2" cy="379.8" r="10.4" fill="#35003f"/>
<circle cx="402" cy="396" r="15" fill="#35003f"/>
<circle cx="420" cy="396" r="15" fill="#35003f"/>
<circle cx="440" cy="396" r="15" fill="#35003f"/>
<circle cx="460" cy="396" r="15" fill="#35003f"/>
<circle cx="480" cy="396" r="15" fill="#35003f"/>
<circle cx="500" cy="396" r="15" fill="#35003f"/>
<circle cx="518" cy="396" r="15" fill="#35003f"/>
<circle cx="388" cy="420" r="16" fill="#35003f"/>
<circle cx="405" cy="420" r="16" fill="#35003f"/>
<circle cx="425" cy="420" r="16" fill="#35003f"/>
<circle cx="445" cy="420" r="16" fill="#35003f"/>
<circle cx="465" cy="420" r="16" fill="#35003f"/>
<circle cx="485" cy="420" r="16" fill="#35003f"/>
<circle cx="505" cy="420" r="16" fill="#35003f"/>
<circle cx="525" cy="420" r="16" fill="#35003f"/>
<circle cx="410.7" cy="447.4" r="11.9" fill="#35003f"/>
<circle cx="433.3" cy="447.4" r="13.1" fill="#35003f"/>
<circle cx="453.6" cy="456.9" r="14.3" fill="#35003f"/>
<circle cx="471.4" cy="440.2" r="11.9" fill="#35003f"/>
<circle cx="495.2" cy="441.4" r="13.1" fill="#35003f"/>
<circle cx="525" cy="442.6" r="10.7" fill="#35003f"/>
<circle cx="545.2" cy="433.1" r="11.9" fill="#35003f"/>
<circle cx="526" cy="440" r="11.9" fill="#35003f"/>
<circle cx="541.4" cy="410.2" r="13.1" fill="#35003f"/>
<circle cx="556.9" cy="432.9" r="15.5" fill="#35003f"/>
<circle cx="570" cy="415" r="13.1" fill="#35003f"/>
<circle cx="586.7" cy="435.2" r="13.1" fill="#35003f"/>
<circle cx="603.3" cy="418.6" r="11.9" fill="#35003f"/>
<circle cx="627.1" cy="421" r="11.9" fill="#35003f"/>
<circle cx="645" cy="424.5" r="13.1" fill="#35003f"/>
<circle cx="660.5" cy="430.5" r="11.9" fill="#35003f"/>
<circle cx="617.6" cy="435.2" r="12" fill="#35003f"/>
<circle cx="577.1" cy="425.7" r="11" fill="#35003f"/>
<circle cx="554.5" cy="417.4" r="10" fill="#35003f"/>
<circle cx="243.3" cy="431.9" r="12" fill="#35003f"/>
<circle cx="603.3" cy="446" r="13.1" fill="#35003f"/>
<circle cx="621.2" cy="451.9" r="11.9" fill="#35003f"/>
<circle cx="641.4" cy="457.9" r="13.1" fill="#35003f"/>
<circle cx="493" cy="458" r="8" fill="#35003f"/>
<circle cx="495.2" cy="467.6" r="8" fill="#35003f"/>
<circle cx="501.2" cy="473.6" r="7" fill="#35003f"/>
<circle cx="476.2" cy="486.7" r="16.7" fill="#35003f"/>
<circle cx="497.6" cy="498.6" r="10.7" fill="#35003f"/>
<circle cx="478.6" cy="503.3" r="11.9" fill="#35003f"/>
<circle cx="473" cy="512" r="9" fill="#35003f"/>
<circle cx="471.4" cy="521.2" r="7.1" fill="#35003f"/>
<circle cx="755.4" cy="501.5" r="11.5" fill="#35003f"/>
<circle cx="745" cy="510" r="11" fill="#35003f"/>
<circle cx="736" cy="519" r="10" fill="#35003f"/>
<circle cx="85.5" cy="239.5" r="4.8" fill="#fde725"/>
<circle cx="213.4" cy="239.9" r="4.8" fill="#fde725"/>
<circle cx="196" cy="279.5" r="4.8" fill="#fde725"/>
<circle cx="270.5" cy="250.4" r="4.8" fill="#fde725"/>
<circle cx="375.3" cy="164.3" r="4.8" fill="#fde725"/>
<circle cx="298.7" cy="183.1" r="4.8" fill="#fde725"/>
<circle cx="292.9" cy="216.0" r="4.8" fill="#fde725"/>
<circle cx="344.9" cy="216.6" r="4.8" fill="#fde725"/>
<circle cx="371.6" cy="232.3" r="4.8" fill="#fde725"/>
<circle cx="371.6" cy="239.0" r="4.8" fill="#fde725"/>
<circle cx="372.5" cy="244.7" r="4.8" fill="#fde725"/>
<circle cx="295.1" cy="258.1" r="4.8" fill="#fde725"/>
<circle cx="293.3" cy="266.4" r="4.8" fill="#fde725"/>
<circle cx="304.4" cy="266.2" r="4.8" fill="#fde725"/>
<circle cx="316.9" cy="263.1" r="4.8" fill="#fde725"/>
<circle cx="317.5" cy="276.2" r="4.8" fill="#fde725"/>
<circle cx="354.9" cy="270.8" r="4.8" fill="#fde725"/>
<circle cx="388.8" cy="268.5" r="4.8" fill="#fde725"/>
<circle cx="395.9" cy="269.9" r="4.8" fill="#fde725"/>
<circle cx="396.8" cy="277.1" r="4.8" fill="#fde725"/>
<circle cx="419.6" cy="250.1" r="4.8" fill="#fde725"/>
<circle cx="437.3" cy="269.4" r="4.8" fill="#fde725"/>
<circle cx="457.2" cy="253.7" r="4.8" fill="#fde725"/>
<circle cx="462.7" cy="195.4" r="4.8" fill="#fde725"/>
<circle cx="490.0" cy="194.0" r="4.8" fill="#fde725"/>
<circle cx="498.9" cy="212.3" r="4.8" fill="#fde725"/>
<circle cx="487.1" cy="230.9" r="4.8" fill="#fde725"/>
<circle cx="504.3" cy="239.5" r="4.8" fill="#fde725"/>
<circle cx="495.3" cy="278.4" r="4.8" fill="#fde725"/>
<circle cx="553.3" cy="127.0" r="4.8" fill="#fde725"/>
<circle cx="700.6" cy="155.0" r="4.8" fill="#fde725"/>
<circle cx="614.2" cy="196.0" r="4.8" fill="#fde725"/>
<circle cx="561.6" cy="204.9" r="4.8" fill="#fde725"/>
<circle cx="539.9" cy="213.0" r="4.8" fill="#fde725"/>
<circle cx="558.0" cy="216.4" r="4.8" fill="#fde725"/>
<circle cx="604.4" cy="217.5" r="4.8" fill="#fde725"/>
<circle cx="704.2" cy="213.5" r="4.8" fill="#fde725"/>
<circle cx="690.5" cy="221.8" r="4.8" fill="#fde725"/>
<circle cx="737.8" cy="218.7" r="4.8" fill="#fde725"/>
<circle cx="525.4" cy="233.8" r="4.8" fill="#fde725"/>
<circle cx="537.8" cy="245.2" r="4.8" fill="#fde725"/>
<circle cx="519.5" cy="260.1" r="4.8" fill="#fde725"/>
<circle cx="565.0" cy="257.2" r="4.8" fill="#fde725"/>
<circle cx="550.8" cy="268.2" r="4.8" fill="#fde725"/>
<circle cx="557.1" cy="270.7" r="4.8" fill="#fde725"/>
<circle cx="567.3" cy="270.5" r="4.8" fill="#fde725"/>
<circle cx="621.1" cy="252.0" r="4.8" fill="#fde725"/>
<circle cx="627.5" cy="263.7" r="4.8" fill="#fde725"/>
<circle cx="625.7" cy="269.8" r="4.8" fill="#fde725"/>
<circle cx="639.0" cy="276.2" r="4.8" fill="#fde725"/>
<circle cx="676.9" cy="268.5" r="4.8" fill="#fde725"/>
<circle cx="674.1" cy="276.0" r="4.8" fill="#fde725"/>
<circle cx="726.4" cy="269.1" r="4.8" fill="#fde725"/>
<circle cx="746.1" cy="249.7" r="4.8" fill="#fde725"/>
<circle cx="760.2" cy="194.7" r="4.8" fill="#fde725"/>
<circle cx="852.1" cy="204.4" r="4.8" fill="#fde725"/>
<circle cx="841.3" cy="211.6" r="4.8" fill="#fde725"/>
<circle cx="87.3" cy="287.4" r="4.8" fill="#fde725"/>
<circle cx="155.6" cy="291.9" r="4.8" fill="#fde725"/>
<circle cx="154.7" cy="332.5" r="4.8" fill="#fde725"/>
<circle cx="46.5" cy="346.1" r="4.8" fill="#fde725"/>
<circle cx="155.9" cy="384.1" r="4.8" fill="#fde725"/>
<circle cx="151.3" cy="398.8" r="4.8" fill="#fde725"/>
<circle cx="127.3" cy="402.9" r="4.8" fill="#fde725"/>
<circle cx="122.1" cy="420.3" r="4.8" fill="#fde725"/>
<circle cx="87.3" cy="430.7" r="4.8" fill="#fde725"/>
<circle cx="157.4" cy="430.3" r="4.8" fill="#fde725"/>
<circle cx="812.2" cy="364.0" r="4.8" fill="#fde725"/>
<circle cx="849.9" cy="352.2" r="4.8" fill="#fde725"/>
<circle cx="853.5" cy="366.2" r="4.8" fill="#fde725"/>
<circle cx="878.6" cy="352.4" r="4.8" fill="#fde725"/>
<circle cx="933.6" cy="361.7" r="4.8" fill="#fde725"/>
<circle cx="952.0" cy="284.7" r="4.8" fill="#fde725"/>
<circle cx="949.2" cy="295.4" r="4.8" fill="#fde725"/>
<circle cx="833.6" cy="395.7" r="4.8" fill="#fde725"/>
<circle cx="870.0" cy="407.4" r="4.8" fill="#fde725"/>
<circle cx="855.7" cy="416.3" r="4.8" fill="#fde725"/>
<circle cx="898.3" cy="412.8" r="4.8" fill="#fde725"/>
<circle cx="816.8" cy="438.7" r="4.8" fill="#fde725"/>
<circle cx="865.5" cy="446.4" r="4.8" fill="#fde725"/>
<circle cx="71.7" cy="488.4" r="4.8" fill="#fde725"/>
<circle cx="157.2" cy="480.9" r="4.8" fill="#fde725"/>
<circle cx="256.0" cy="512.2" r="4.8" fill="#fde725"/>
<circle cx="151.3" cy="515.8" r="4.8" fill="#fde725"/>
<circle cx="158.6" cy="521.7" r="4.8" fill="#fde725"/>
<circle cx="163.4" cy="523.9" r="4.8" fill="#fde725"/>
<circle cx="178.7" cy="523.9" r="4.8" fill="#fde725"/>
<circle cx="147.9" cy="531.0" r="4.8" fill="#fde725"/>
<circle cx="163.4" cy="539.4" r="4.8" fill="#fde725"/>
<circle cx="175.1" cy="546.8" r="4.8" fill="#fde725"/>
<circle cx="205.2" cy="531.0" r="4.8" fill="#fde725"/>
<circle cx="209.7" cy="537.6" r="4.8" fill="#fde725"/>
<circle cx="229.2" cy="517.2" r="4.8" fill="#fde725"/>
<circle cx="236.3" cy="527.8" r="4.8" fill="#fde725"/>
<circle cx="226.5" cy="535.0" r="4.8" fill="#fde725"/>
<circle cx="267.3" cy="527.4" r="4.8" fill="#fde725"/>
<circle cx="264.6" cy="537.8" r="4.8" fill="#fde725"/>
<circle cx="104.9" cy="543.2" r="4.8" fill="#fde725"/>
<circle cx="61.9" cy="555.7" r="4.8" fill="#fde725"/>
<circle cx="114.4" cy="560.6" r="4.8" fill="#fde725"/>
<circle cx="206.4" cy="567.7" r="4.8" fill="#fde725"/>
<circle cx="209.1" cy="573.6" r="4.8" fill="#fde725"/>
<circle cx="228.8" cy="566.5" r="4.8" fill="#fde725"/>
<circle cx="228.5" cy="572.2" r="4.8" fill="#fde725"/>
<circle cx="228.5" cy="583.0" r="4.8" fill="#fde725"/>
<circle cx="250.3" cy="579.0" r="4.8" fill="#fde725"/>
<circle cx="256.0" cy="566.5" r="4.8" fill="#fde725"/>
<circle cx="267.3" cy="559.7" r="4.8" fill="#fde725"/>
<circle cx="140.2" cy="589.2" r="4.8" fill="#fde725"/>
<circle cx="185.3" cy="585.3" r="4.8" fill="#fde725"/>
<circle cx="262.0" cy="598.2" r="4.8" fill="#fde725"/>
<circle cx="262.8" cy="602.7" r="4.8" fill="#fde725"/>
<circle cx="150.5" cy="610.4" r="4.8" fill="#fde725"/>
<circle cx="202.5" cy="613.4" r="4.8" fill="#fde725"/>
<circle cx="100.2" cy="622.4" r="4.8" fill="#fde725"/>
<circle cx="161.6" cy="624.2" r="4.8" fill="#fde725"/>
<circle cx="329.1" cy="511.0" r="4.8" fill="#fde725"/>
<circle cx="289.3" cy="517.6" r="4.8" fill="#fde725"/>
<circle cx="347.9" cy="520.6" r="4.8" fill="#fde725"/>
<circle cx="355.6" cy="521.2" r="4.8" fill="#fde725"/>
<circle cx="363.5" cy="514.9" r="4.8" fill="#fde725"/>
<circle cx="370.3" cy="524.8" r="4.8" fill="#fde725"/>
<circle cx="379.6" cy="531.0" r="4.8" fill="#fde725"/>
<circle cx="361.0" cy="534.6" r="4.8" fill="#fde725"/>
<circle cx="363.1" cy="545.3" r="4.8" fill="#fde725"/>
<circle cx="366.7" cy="550.7" r="4.8" fill="#fde725"/>
<circle cx="371.2" cy="560.6" r="4.8" fill="#fde725"/>
<circle cx="347.4" cy="542.7" r="4.8" fill="#fde725"/>
<circle cx="287.0" cy="545.3" r="4.8" fill="#fde725"/>
<circle cx="296.5" cy="542.7" r="4.8" fill="#fde725"/>
<circle cx="310.3" cy="540.0" r="4.8" fill="#fde725"/>
<circle cx="316.2" cy="541.8" r="4.8" fill="#fde725"/>
<circle cx="292.7" cy="551.6" r="4.8" fill="#fde725"/>
<circle cx="297.4" cy="558.8" r="4.8" fill="#fde725"/>
<circle cx="326.1" cy="554.3" r="4.8" fill="#fde725"/>
<circle cx="335.4" cy="559.7" r="4.8" fill="#fde725"/>
<circle cx="339.5" cy="555.2" r="4.8" fill="#fde725"/>
<circle cx="287.6" cy="571.9" r="4.8" fill="#fde725"/>
<circle cx="278.1" cy="581.2" r="4.8" fill="#fde725"/>
<circle cx="289.3" cy="589.6" r="4.8" fill="#fde725"/>
<circle cx="305.8" cy="583.0" r="4.8" fill="#fde725"/>
<circle cx="317.1" cy="574.4" r="4.8" fill="#fde725"/>
<circle cx="318.7" cy="589.2" r="4.8" fill="#fde725"/>
<circle cx="330.9" cy="579.0" r="4.8" fill="#fde725"/>
<circle cx="343.8" cy="572.6" r="4.8" fill="#fde725"/>
<circle cx="349.7" cy="583.0" r="4.8" fill="#fde725"/>
<circle cx="358.7" cy="577.2" r="4.8" fill="#fde725"/>
<circle cx="338.1" cy="588.7" r="4.8" fill="#fde725"/>
<circle cx="317.5" cy="604.5" r="4.8" fill="#fde725"/>
<circle cx="330.9" cy="602.7" r="4.8" fill="#fde725"/>
<circle cx="335.4" cy="600.0" r="4.8" fill="#fde725"/>
<circle cx="304.9" cy="608.9" r="4.8" fill="#fde725"/>
<circle cx="297.8" cy="613.4" r="4.8" fill="#fde725"/>
<circle cx="325.2" cy="616.1" r="4.8" fill="#fde725"/>
<circle cx="364.9" cy="606.2" r="4.8" fill="#fde725"/>
<circle cx="375.7" cy="610.7" r="4.8" fill="#fde725"/>
<circle cx="381.1" cy="583.0" r="4.8" fill="#fde725"/>
<circle cx="381.1" cy="593.7" r="4.8" fill="#fde725"/>
<circle cx="381.9" cy="551.6" r="4.8" fill="#fde725"/>
<circle cx="387.9" cy="548.0" r="4.8" fill="#fde725"/>
<circle cx="392.7" cy="555.2" r="4.8" fill="#fde725"/>
<circle cx="396.8" cy="541.8" r="4.8" fill="#fde725"/>
<circle cx="404.7" cy="560.6" r="4.8" fill="#fde725"/>
<circle cx="393.6" cy="567.7" r="4.8" fill="#fde725"/>
<circle cx="398.1" cy="574.0" r="4.8" fill="#fde725"/>
<circle cx="401.6" cy="578.5" r="4.8" fill="#fde725"/>
<circle cx="412.4" cy="519.4" r="4.8" fill="#fde725"/>
<circle cx="409.4" cy="531.4" r="4.8" fill="#fde725"/>
<circle cx="417.4" cy="538.2" r="4.8" fill="#fde725"/>
<circle cx="405.2" cy="596.4" r="4.8" fill="#fde725"/>
<circle cx="407.2" cy="606.2" r="4.8" fill="#fde725"/>
<circle cx="414.2" cy="616.1" r="4.8" fill="#fde725"/>
<circle cx="401.6" cy="621.5" r="4.8" fill="#fde725"/>
<circle cx="420.5" cy="586.5" r="4.8" fill="#fde725"/>
<circle cx="416.0" cy="591.9" r="4.8" fill="#fde725"/>
<circle cx="421.4" cy="597.3" r="4.8" fill="#fde725"/>
<circle cx="423.1" cy="601.8" r="4.8" fill="#fde725"/>
<circle cx="427.1" cy="566.5" r="4.8" fill="#fde725"/>
<circle cx="427.3" cy="577.9" r="4.8" fill="#fde725"/>
<circle cx="429.4" cy="623.3" r="4.8" fill="#fde725"/>
<circle cx="432.1" cy="551.6" r="4.8" fill="#fde725"/>
<circle cx="439.3" cy="554.3" r="4.8" fill="#fde725"/>
<circle cx="437.5" cy="543.6" r="4.8" fill="#fde725"/>
<circle cx="438.4" cy="532.8" r="4.8" fill="#fde725"/>
<circle cx="441.1" cy="522.1" r="4.8" fill="#fde725"/>
<circle cx="446.4" cy="514.9" r="4.8" fill="#fde725"/>
<circle cx="459.0" cy="522.1" r="4.8" fill="#fde725"/>
<circle cx="458.1" cy="534.6" r="4.8" fill="#fde725"/>
<circle cx="452.7" cy="550.7" r="4.8" fill="#fde725"/>
<circle cx="453.6" cy="562.4" r="4.8" fill="#fde725"/>
<circle cx="447.3" cy="568.6" r="4.8" fill="#fde725"/>
<circle cx="450.5" cy="574.9" r="4.8" fill="#fde725"/>
<circle cx="458.1" cy="585.6" r="4.8" fill="#fde725"/>
<circle cx="453.6" cy="598.7" r="4.8" fill="#fde725"/>
<circle cx="442.8" cy="611.6" r="4.8" fill="#fde725"/>
<circle cx="440.2" cy="615.2" r="4.8" fill="#fde725"/>
<circle cx="466.1" cy="549.8" r="4.8" fill="#fde725"/>
<circle cx="463.4" cy="509.5" r="4.8" fill="#fde725"/>
<circle cx="473.3" cy="522.1" r="4.8" fill="#fde725"/>
<circle cx="476.9" cy="530.1" r="4.8" fill="#fde725"/>
<circle cx="480.5" cy="547.5" r="4.8" fill="#fde725"/>
<circle cx="493.0" cy="539.6" r="4.8" fill="#fde725"/>
<circle cx="504.6" cy="528.3" r="4.8" fill="#fde725"/>
<circle cx="504.6" cy="515.8" r="4.8" fill="#fde725"/>
<circle cx="487.6" cy="513.1" r="4.8" fill="#fde725"/>
<circle cx="470.6" cy="583.0" r="4.8" fill="#fde725"/>
<circle cx="476.9" cy="584.8" r="4.8" fill="#fde725"/>
<circle cx="482.3" cy="580.3" r="4.8" fill="#fde725"/>
<circle cx="481.4" cy="586.5" r="4.8" fill="#fde725"/>
<circle cx="469.7" cy="598.2" r="4.8" fill="#fde725"/>
<circle cx="480.5" cy="597.3" r="4.8" fill="#fde725"/>
<circle cx="477.8" cy="607.1" r="4.8" fill="#fde725"/>
<circle cx="477.8" cy="611.6" r="4.8" fill="#fde725"/>
<circle cx="493.0" cy="573.1" r="4.8" fill="#fde725"/>
<circle cx="499.3" cy="564.2" r="4.8" fill="#fde725"/>
<circle cx="502.8" cy="552.5" r="4.8" fill="#fde725"/>
<circle cx="499.3" cy="601.8" r="4.8" fill="#fde725"/>
<circle cx="503.7" cy="617.9" r="4.8" fill="#fde725"/>
<circle cx="490.3" cy="620.6" r="4.8" fill="#fde725"/>
<circle cx="475.1" cy="623.3" r="4.8" fill="#fde725"/>
<circle cx="381.1" cy="624.2" r="4.8" fill="#fde725"/>
<circle cx="571.8" cy="511.3" r="4.8" fill="#fde725"/>
<circle cx="580.8" cy="513.1" r="4.8" fill="#fde725"/>
<circle cx="585.2" cy="520.3" r="4.8" fill="#fde725"/>
<circle cx="597.8" cy="511.3" r="4.8" fill="#fde725"/>
<circle cx="608.5" cy="513.1" r="4.8" fill="#fde725"/>
<circle cx="608.2" cy="523.0" r="4.8" fill="#fde725"/>
<circle cx="707.0" cy="515.8" r="4.8" fill="#fde725"/>
<circle cx="711.5" cy="519.4" r="4.8" fill="#fde725"/>
<circle cx="664.0" cy="514.9" r="4.8" fill="#fde725"/>
<circle cx="668.5" cy="515.8" r="4.8" fill="#fde725"/>
<circle cx="652.4" cy="523.0" r="4.8" fill="#fde725"/>
<circle cx="656.9" cy="523.9" r="4.8" fill="#fde725"/>
<circle cx="626.4" cy="527.4" r="4.8" fill="#fde725"/>
<circle cx="640.8" cy="531.9" r="4.8" fill="#fde725"/>
<circle cx="635.4" cy="538.2" r="4.8" fill="#fde725"/>
<circle cx="619.3" cy="537.3" r="4.8" fill="#fde725"/>
<circle cx="624.6" cy="541.8" r="4.8" fill="#fde725"/>
<circle cx="615.7" cy="545.3" r="4.8" fill="#fde725"/>
<circle cx="607.6" cy="548.9" r="4.8" fill="#fde725"/>
<circle cx="613.9" cy="553.4" r="4.8" fill="#fde725"/>
<circle cx="618.4" cy="552.5" r="4.8" fill="#fde725"/>
<circle cx="596.0" cy="564.2" r="4.8" fill="#fde725"/>
<circle cx="602.8" cy="569.5" r="4.8" fill="#fde725"/>
<circle cx="607.6" cy="562.4" r="4.8" fill="#fde725"/>
<circle cx="617.5" cy="569.5" r="4.8" fill="#fde725"/>
<circle cx="625.5" cy="567.7" r="4.8" fill="#fde725"/>
<circle cx="636.8" cy="557.0" r="4.8" fill="#fde725"/>
<circle cx="639.0" cy="568.6" r="4.8" fill="#fde725"/>
<circle cx="641.6" cy="577.6" r="4.8" fill="#fde725"/>
<circle cx="646.1" cy="577.6" r="4.8" fill="#fde725"/>
<circle cx="651.5" cy="588.0" r="4.8" fill="#fde725"/>
<circle cx="664.0" cy="577.6" r="4.8" fill="#fde725"/>
<circle cx="676.2" cy="586.9" r="4.8" fill="#fde725"/>
<circle cx="681.1" cy="600.0" r="4.8" fill="#fde725"/>
<circle cx="681.6" cy="572.2" r="4.8" fill="#fde725"/>
<circle cx="686.4" cy="577.6" r="4.8" fill="#fde725"/>
<circle cx="664.0" cy="550.7" r="4.8" fill="#fde725"/>
<circle cx="668.5" cy="544.5" r="4.8" fill="#fde725"/>
<circle cx="679.3" cy="546.2" r="4.8" fill="#fde725"/>
<circle cx="681.1" cy="552.5" r="4.8" fill="#fde725"/>
<circle cx="689.1" cy="534.6" r="4.8" fill="#fde725"/>
<circle cx="699.0" cy="536.9" r="4.8" fill="#fde725"/>
<circle cx="704.0" cy="565.9" r="4.8" fill="#fde725"/>
<circle cx="724.9" cy="568.6" r="4.8" fill="#fde725"/>
<circle cx="726.7" cy="574.0" r="4.8" fill="#fde725"/>
<circle cx="740.7" cy="546.2" r="4.8" fill="#fde725"/>
<circle cx="709.4" cy="600.5" r="4.8" fill="#fde725"/>
<circle cx="724.0" cy="610.7" r="4.8" fill="#fde725"/>
<circle cx="713.8" cy="617.9" r="4.8" fill="#fde725"/>
<circle cx="693.6" cy="599.4" r="4.8" fill="#fde725"/>
<circle cx="669.1" cy="615.2" r="4.8" fill="#fde725"/>
<circle cx="660.5" cy="617.9" r="4.8" fill="#fde725"/>
<circle cx="647.9" cy="617.9" r="4.8" fill="#fde725"/>
<circle cx="631.8" cy="619.7" r="4.8" fill="#fde725"/>
<circle cx="623.7" cy="612.5" r="4.8" fill="#fde725"/>
<circle cx="623.7" cy="598.2" r="4.8" fill="#fde725"/>
<circle cx="600.5" cy="598.7" r="4.8" fill="#fde725"/>
<circle cx="597.8" cy="611.6" r="4.8" fill="#fde725"/>
<circle cx="604.9" cy="613.4" r="4.8" fill="#fde725"/>
<circle cx="617.5" cy="623.3" r="4.8" fill="#fde725"/>
<circle cx="583.4" cy="592.8" r="4.8" fill="#fde725"/>
<circle cx="588.8" cy="591.9" r="4.8" fill="#fde725"/>
<circle cx="593.3" cy="590.1" r="4.8" fill="#fde725"/>
<circle cx="589.7" cy="600.0" r="4.8" fill="#fde725"/>
<circle cx="580.8" cy="570.4" r="4.8" fill="#fde725"/>
<circle cx="571.8" cy="530.7" r="4.8" fill="#fde725"/>
<circle cx="581.6" cy="538.2" r="4.8" fill="#fde725"/>
<circle cx="590.6" cy="532.8" r="4.8" fill="#fde725"/>
<circle cx="564.6" cy="543.6" r="4.8" fill="#fde725"/>
<circle cx="566.4" cy="557.5" r="4.8" fill="#fde725"/>
<circle cx="553.0" cy="548.0" r="4.8" fill="#fde725"/>
<circle cx="553.9" cy="556.1" r="4.8" fill="#fde725"/>
<circle cx="555.7" cy="560.6" r="4.8" fill="#fde725"/>
<circle cx="545.8" cy="555.2" r="4.8" fill="#fde725"/>
<circle cx="536.9" cy="550.7" r="4.8" fill="#fde725"/>
<circle cx="532.4" cy="546.2" r="4.8" fill="#fde725"/>
<circle cx="533.3" cy="560.6" r="4.8" fill="#fde725"/>
<circle cx="524.3" cy="557.0" r="4.8" fill="#fde725"/>
<circle cx="514.5" cy="541.8" r="4.8" fill="#fde725"/>
<circle cx="513.6" cy="548.9" r="4.8" fill="#fde725"/>
<circle cx="513.9" cy="560.6" r="4.8" fill="#fde725"/>
<circle cx="518.1" cy="518.5" r="4.8" fill="#fde725"/>
<circle cx="529.7" cy="520.3" r="4.8" fill="#fde725"/>
<circle cx="527.0" cy="531.0" r="4.8" fill="#fde725"/>
<circle cx="541.9" cy="522.1" r="4.8" fill="#fde725"/>
<circle cx="551.2" cy="514.0" r="4.8" fill="#fde725"/>
<circle cx="556.6" cy="513.1" r="4.8" fill="#fde725"/>
<circle cx="562.8" cy="519.9" r="4.8" fill="#fde725"/>
<circle cx="561.6" cy="572.2" r="4.8" fill="#fde725"/>
<circle cx="548.5" cy="580.3" r="4.8" fill="#fde725"/>
<circle cx="560.2" cy="586.5" r="4.8" fill="#fde725"/>
<circle cx="525.8" cy="587.4" r="4.8" fill="#fde725"/>
<circle cx="536.9" cy="593.4" r="4.8" fill="#fde725"/>
<circle cx="523.4" cy="601.8" r="4.8" fill="#fde725"/>
<circle cx="512.7" cy="601.8" r="4.8" fill="#fde725"/>
<circle cx="553.0" cy="592.8" r="4.8" fill="#fde725"/>
<circle cx="555.7" cy="600.9" r="4.8" fill="#fde725"/>
<circle cx="561.9" cy="600.9" r="4.8" fill="#fde725"/>
<circle cx="570.9" cy="606.2" r="4.8" fill="#fde725"/>
<circle cx="536.9" cy="609.8" r="4.8" fill="#fde725"/>
<circle cx="516.3" cy="615.2" r="4.8" fill="#fde725"/>
<circle cx="519.9" cy="621.5" r="4.8" fill="#fde725"/>
<circle cx="544.0" cy="619.7" r="4.8" fill="#fde725"/>
<circle cx="553.0" cy="614.3" r="4.8" fill="#fde725"/>
<circle cx="563.7" cy="622.4" r="4.8" fill="#fde725"/>
<circle cx="819.9" cy="464.7" r="4.8" fill="#fde725"/>
<circle cx="831.0" cy="470.1" r="4.8" fill="#fde725"/>
<circle cx="877.5" cy="475.9" r="4.8" fill="#fde725"/>
<circle cx="887.6" cy="476.4" r="4.8" fill="#fde725"/>
<circle cx="823.4" cy="491.6" r="4.8" fill="#fde725"/>
<circle cx="839.0" cy="492.5" r="4.8" fill="#fde725"/>
<circle cx="850.3" cy="495.6" r="4.8" fill="#fde725"/>
<circle cx="881.6" cy="492.5" r="4.8" fill="#fde725"/>
<circle cx="775.1" cy="514.9" r="4.8" fill="#fde725"/>
<circle cx="777.2" cy="518.8" r="4.8" fill="#fde725"/>
<circle cx="790.8" cy="516.7" r="4.8" fill="#fde725"/>
<circle cx="801.9" cy="514.9" r="4.8" fill="#fde725"/>
<circle cx="805.2" cy="512.2" r="4.8" fill="#fde725"/>
<circle cx="857.1" cy="527.8" r="4.8" fill="#fde725"/>
<circle cx="868.6" cy="522.4" r="4.8" fill="#fde725"/>
<circle cx="762.9" cy="555.6" r="4.8" fill="#fde725"/>
<circle cx="819.5" cy="548.0" r="4.8" fill="#fde725"/>
<circle cx="831.1" cy="547.1" r="4.8" fill="#fde725"/>
<circle cx="871.4" cy="551.6" r="4.8" fill="#fde725"/>
<circle cx="869.1" cy="558.4" r="4.8" fill="#fde725"/>
<circle cx="890.1" cy="567.7" r="4.8" fill="#fde725"/>
<circle cx="897.8" cy="577.6" r="4.8" fill="#fde725"/>
<circle cx="928.8" cy="545.0" r="4.8" fill="#fde725"/>
<circle cx="947.4" cy="538.5" r="4.8" fill="#fde725"/>
<circle cx="943.8" cy="566.8" r="4.8" fill="#fde725"/>
<circle cx="861.6" cy="584.8" r="4.8" fill="#fde725"/>
<circle cx="849.8" cy="593.7" r="4.8" fill="#fde725"/>
<circle cx="814.8" cy="588.9" r="4.8" fill="#fde725"/>
<circle cx="797.1" cy="590.1" r="4.8" fill="#fde725"/>
<circle cx="788.2" cy="596.8" r="4.8" fill="#fde725"/>
<circle cx="792.1" cy="605.4" r="4.8" fill="#fde725"/>
<circle cx="807.7" cy="606.8" r="4.8" fill="#fde725"/>
<circle cx="775.4" cy="610.7" r="4.8" fill="#fde725"/>
<circle cx="772.7" cy="618.4" r="4.8" fill="#fde725"/>
<circle cx="256.9" cy="642.5" r="4.8" fill="#fde725"/>
<circle cx="268.2" cy="632.3" r="4.8" fill="#fde725"/>
<circle cx="153.9" cy="658.8" r="4.8" fill="#fde725"/>
<circle cx="212.7" cy="659.5" r="4.8" fill="#fde725"/>
<circle cx="231.1" cy="660.9" r="4.8" fill="#fde725"/>
<circle cx="269.1" cy="659.7" r="4.8" fill="#fde725"/>
<circle cx="262.8" cy="673.5" r="4.8" fill="#fde725"/>
<circle cx="258.4" cy="680.6" r="4.8" fill="#fde725"/>
<circle cx="184.4" cy="687.4" r="4.8" fill="#fde725"/>
<circle cx="147.9" cy="699.4" r="4.8" fill="#fde725"/>
<circle cx="184.0" cy="703.0" r="4.8" fill="#fde725"/>
<circle cx="234.7" cy="700.0" r="4.8" fill="#fde725"/>
<circle cx="259.8" cy="710.2" r="4.8" fill="#fde725"/>
<circle cx="223.8" cy="737.9" r="4.8" fill="#fde725"/>
<circle cx="306.7" cy="632.8" r="4.8" fill="#fde725"/>
<circle cx="284.3" cy="636.4" r="4.8" fill="#fde725"/>
<circle cx="286.1" cy="643.9" r="4.8" fill="#fde725"/>
<circle cx="281.6" cy="650.2" r="4.8" fill="#fde725"/>
<circle cx="318.4" cy="649.8" r="4.8" fill="#fde725"/>
<circle cx="335.4" cy="640.3" r="4.8" fill="#fde725"/>
<circle cx="339.0" cy="636.7" r="4.8" fill="#fde725"/>
<circle cx="352.8" cy="630.5" r="4.8" fill="#fde725"/>
<circle cx="353.8" cy="637.6" r="4.8" fill="#fde725"/>
<circle cx="364.9" cy="631.4" r="4.8" fill="#fde725"/>
<circle cx="361.7" cy="647.5" r="4.8" fill="#fde725"/>
<circle cx="377.1" cy="644.8" r="4.8" fill="#fde725"/>
<circle cx="377.1" cy="654.3" r="4.8" fill="#fde725"/>
<circle cx="410.2" cy="631.0" r="4.8" fill="#fde725"/>
<circle cx="421.9" cy="635.3" r="4.8" fill="#fde725"/>
<circle cx="409.4" cy="644.3" r="4.8" fill="#fde725"/>
<circle cx="453.6" cy="634.1" r="4.8" fill="#fde725"/>
<circle cx="461.7" cy="643.0" r="4.8" fill="#fde725"/>
<circle cx="467.6" cy="648.9" r="4.8" fill="#fde725"/>
<circle cx="429.1" cy="653.8" r="4.8" fill="#fde725"/>
<circle cx="429.4" cy="666.8" r="4.8" fill="#fde725"/>
<circle cx="439.3" cy="664.0" r="4.8" fill="#fde725"/>
<circle cx="441.4" cy="679.7" r="4.8" fill="#fde725"/>
<circle cx="482.8" cy="664.5" r="4.8" fill="#fde725"/>
<circle cx="488.5" cy="652.0" r="4.8" fill="#fde725"/>
<circle cx="493.9" cy="657.3" r="4.8" fill="#fde725"/>
<circle cx="493.9" cy="661.8" r="4.8" fill="#fde725"/>
<circle cx="503.7" cy="635.9" r="4.8" fill="#fde725"/>
<circle cx="335.4" cy="663.3" r="4.8" fill="#fde725"/>
<circle cx="282.5" cy="674.7" r="4.8" fill="#fde725"/>
<circle cx="298.3" cy="683.3" r="4.8" fill="#fde725"/>
<circle cx="307.6" cy="682.4" r="4.8" fill="#fde725"/>
<circle cx="320.5" cy="672.9" r="4.8" fill="#fde725"/>
<circle cx="344.3" cy="675.3" r="4.8" fill="#fde725"/>
<circle cx="347.4" cy="681.5" r="4.8" fill="#fde725"/>
<circle cx="356.0" cy="671.7" r="4.8" fill="#fde725"/>
<circle cx="359.9" cy="700.9" r="4.8" fill="#fde725"/>
<circle cx="381.4" cy="701.6" r="4.8" fill="#fde725"/>
<circle cx="344.3" cy="713.4" r="4.8" fill="#fde725"/>
<circle cx="309.0" cy="717.3" r="4.8" fill="#fde725"/>
<circle cx="315.1" cy="718.6" r="4.8" fill="#fde725"/>
<circle cx="360.1" cy="743.7" r="4.8" fill="#fde725"/>
<circle cx="288.3" cy="754.1" r="4.8" fill="#fde725"/>
<circle cx="383.9" cy="770.7" r="4.8" fill="#fde725"/>
<circle cx="430.3" cy="770.2" r="4.8" fill="#fde725"/>
<circle cx="455.9" cy="788.5" r="4.8" fill="#fde725"/>
<circle cx="477.2" cy="778.2" r="4.8" fill="#fde725"/>
<circle cx="491.6" cy="774.7" r="4.8" fill="#fde725"/>
<circle cx="483.7" cy="765.7" r="4.8" fill="#fde725"/>
<circle cx="491.7" cy="755.3" r="4.8" fill="#fde725"/>
<circle cx="498.4" cy="751.4" r="4.8" fill="#fde725"/>
<circle cx="505.2" cy="759.4" r="4.8" fill="#fde725"/>
<circle cx="508.2" cy="737.1" r="4.8" fill="#fde725"/>
<circle cx="454.5" cy="747.8" r="4.8" fill="#fde725"/>
<circle cx="434.8" cy="729.5" r="4.8" fill="#fde725"/>
<circle cx="398.1" cy="724.2" r="4.8" fill="#fde725"/>
<circle cx="403.4" cy="728.1" r="4.8" fill="#fde725"/>
<circle cx="413.3" cy="716.5" r="4.8" fill="#fde725"/>
<circle cx="418.3" cy="723.6" r="4.8" fill="#fde725"/>
<circle cx="420.1" cy="728.1" r="4.8" fill="#fde725"/>
<circle cx="459.9" cy="697.6" r="4.8" fill="#fde725"/>
<circle cx="464.0" cy="702.1" r="4.8" fill="#fde725"/>
<circle cx="464.3" cy="721.8" r="4.8" fill="#fde725"/>
<circle cx="471.5" cy="716.5" r="4.8" fill="#fde725"/>
<circle cx="476.3" cy="723.6" r="4.8" fill="#fde725"/>
<circle cx="486.7" cy="716.1" r="4.8" fill="#fde725"/>
<circle cx="500.7" cy="713.8" r="4.8" fill="#fde725"/>
<circle cx="499.8" cy="719.1" r="4.8" fill="#fde725"/>
<circle cx="504.6" cy="681.9" r="4.8" fill="#fde725"/>
<circle cx="505.5" cy="702.1" r="4.8" fill="#fde725"/>
<circle cx="520.7" cy="630.5" r="4.8" fill="#fde725"/>
<circle cx="561.9" cy="632.3" r="4.8" fill="#fde725"/>
<circle cx="575.4" cy="629.6" r="4.8" fill="#fde725"/>
<circle cx="728.5" cy="630.5" r="4.8" fill="#fde725"/>
<circle cx="744.6" cy="635.0" r="4.8" fill="#fde725"/>
<circle cx="513.6" cy="642.1" r="4.8" fill="#fde725"/>
<circle cx="520.7" cy="642.1" r="4.8" fill="#fde725"/>
<circle cx="531.5" cy="642.1" r="4.8" fill="#fde725"/>
<circle cx="550.8" cy="644.8" r="4.8" fill="#fde725"/>
<circle cx="570.9" cy="641.8" r="4.8" fill="#fde725"/>
<circle cx="516.3" cy="652.0" r="4.8" fill="#fde725"/>
<circle cx="521.6" cy="657.9" r="4.8" fill="#fde725"/>
<circle cx="530.6" cy="658.6" r="4.8" fill="#fde725"/>
<circle cx="539.6" cy="667.6" r="4.8" fill="#fde725"/>
<circle cx="573.0" cy="656.8" r="4.8" fill="#fde725"/>
<circle cx="568.2" cy="664.5" r="4.8" fill="#fde725"/>
<circle cx="569.1" cy="669.9" r="4.8" fill="#fde725"/>
<circle cx="585.2" cy="663.6" r="4.8" fill="#fde725"/>
<circle cx="589.2" cy="667.6" r="4.8" fill="#fde725"/>
<circle cx="601.3" cy="642.1" r="4.8" fill="#fde725"/>
<circle cx="621.4" cy="644.3" r="4.8" fill="#fde725"/>
<circle cx="637.5" cy="641.8" r="4.8" fill="#fde725"/>
<circle cx="611.2" cy="661.3" r="4.8" fill="#fde725"/>
<circle cx="650.6" cy="650.2" r="4.8" fill="#fde725"/>
<circle cx="661.4" cy="662.7" r="4.8" fill="#fde725"/>
<circle cx="642.5" cy="668.1" r="4.8" fill="#fde725"/>
<circle cx="681.1" cy="634.1" r="4.8" fill="#fde725"/>
<circle cx="685.5" cy="635.9" r="4.8" fill="#fde725"/>
<circle cx="681.6" cy="643.0" r="4.8" fill="#fde725"/>
<circle cx="687.3" cy="658.8" r="4.8" fill="#fde725"/>
<circle cx="703.4" cy="660.6" r="4.8" fill="#fde725"/>
<circle cx="695.9" cy="673.5" r="4.8" fill="#fde725"/>
<circle cx="717.4" cy="672.6" r="4.8" fill="#fde725"/>
<circle cx="733.9" cy="649.3" r="4.8" fill="#fde725"/>
<circle cx="741.1" cy="671.7" r="4.8" fill="#fde725"/>
<circle cx="715.1" cy="686.9" r="4.8" fill="#fde725"/>
<circle cx="690.9" cy="689.6" r="4.8" fill="#fde725"/>
<circle cx="696.3" cy="692.3" r="4.8" fill="#fde725"/>
<circle cx="675.7" cy="693.2" r="4.8" fill="#fde725"/>
<circle cx="664.9" cy="684.7" r="4.8" fill="#fde725"/>
<circle cx="651.5" cy="683.3" r="4.8" fill="#fde725"/>
<circle cx="644.3" cy="681.5" r="4.8" fill="#fde725"/>
<circle cx="635.4" cy="687.8" r="4.8" fill="#fde725"/>
<circle cx="628.6" cy="678.8" r="4.8" fill="#fde725"/>
<circle cx="617.1" cy="683.3" r="4.8" fill="#fde725"/>
<circle cx="605.8" cy="681.5" r="4.8" fill="#fde725"/>
<circle cx="638.1" cy="701.2" r="4.8" fill="#fde725"/>
<circle cx="601.7" cy="705.7" r="4.8" fill="#fde725"/>
<circle cx="604.0" cy="717.3" r="4.8" fill="#fde725"/>
<circle cx="599.6" cy="720.0" r="4.8" fill="#fde725"/>
<circle cx="587.9" cy="718.2" r="4.8" fill="#fde725"/>
<circle cx="580.2" cy="724.2" r="4.8" fill="#fde725"/>
<circle cx="568.2" cy="705.7" r="4.8" fill="#fde725"/>
<circle cx="544.9" cy="688.7" r="4.8" fill="#fde725"/>
<circle cx="556.9" cy="683.7" r="4.8" fill="#fde725"/>
<circle cx="553.5" cy="696.2" r="4.8" fill="#fde725"/>
<circle cx="530.6" cy="681.2" r="4.8" fill="#fde725"/>
<circle cx="519.0" cy="685.1" r="4.8" fill="#fde725"/>
<circle cx="515.4" cy="692.3" r="4.8" fill="#fde725"/>
<circle cx="525.2" cy="683.3" r="4.8" fill="#fde725"/>
<circle cx="551.6" cy="710.2" r="4.8" fill="#fde725"/>
<circle cx="550.8" cy="720.9" r="4.8" fill="#fde725"/>
<circle cx="538.7" cy="719.1" r="4.8" fill="#fde725"/>
<circle cx="517.5" cy="718.8" r="4.8" fill="#fde725"/>
<circle cx="530.6" cy="724.2" r="4.8" fill="#fde725"/>
<circle cx="527.0" cy="731.7" r="4.8" fill="#fde725"/>
<circle cx="535.1" cy="731.7" r="4.8" fill="#fde725"/>
<circle cx="540.8" cy="745.1" r="4.8" fill="#fde725"/>
<circle cx="519.3" cy="752.3" r="4.8" fill="#fde725"/>
<circle cx="567.0" cy="760.9" r="4.8" fill="#fde725"/>
<circle cx="587.4" cy="741.2" r="4.8" fill="#fde725"/>
<circle cx="595.6" cy="758.2" r="4.8" fill="#fde725"/>
<circle cx="601.3" cy="773.8" r="4.8" fill="#fde725"/>
<circle cx="608.2" cy="787.6" r="4.8" fill="#fde725"/>
<circle cx="625.2" cy="773.8" r="4.8" fill="#fde725"/>
<circle cx="631.8" cy="787.2" r="4.8" fill="#fde725"/>
<circle cx="639.0" cy="752.3" r="4.8" fill="#fde725"/>
<circle cx="644.7" cy="768.4" r="4.8" fill="#fde725"/>
<circle cx="654.2" cy="771.4" r="4.8" fill="#fde725"/>
<circle cx="630.5" cy="721.3" r="4.8" fill="#fde725"/>
<circle cx="638.6" cy="718.8" r="4.8" fill="#fde725"/>
<circle cx="652.4" cy="719.1" r="4.8" fill="#fde725"/>
<circle cx="655.4" cy="728.5" r="4.8" fill="#fde725"/>
<circle cx="694.8" cy="712.0" r="4.8" fill="#fde725"/>
<circle cx="711.0" cy="721.8" r="4.8" fill="#fde725"/>
<circle cx="703.4" cy="733.5" r="4.8" fill="#fde725"/>
<circle cx="709.7" cy="754.1" r="4.8" fill="#fde725"/>
<circle cx="718.7" cy="764.8" r="4.8" fill="#fde725"/>
<circle cx="740.2" cy="736.7" r="4.8" fill="#fde725"/>
<circle cx="746.4" cy="698.5" r="4.8" fill="#fde725"/>
<circle cx="749.1" cy="704.8" r="4.8" fill="#fde725"/>
<circle cx="522.5" cy="770.7" r="4.8" fill="#fde725"/>
<circle cx="531.1" cy="772.0" r="4.8" fill="#fde725"/>
<circle cx="525.2" cy="779.1" r="4.8" fill="#fde725"/>
<circle cx="550.3" cy="787.2" r="4.8" fill="#fde725"/>
<circle cx="568.2" cy="797.1" r="4.8" fill="#fde725"/>
<circle cx="654.7" cy="797.1" r="4.8" fill="#fde725"/>
<circle cx="832.0" cy="634.4" r="4.8" fill="#fde725"/>
<circle cx="879.5" cy="630.5" r="4.8" fill="#fde725"/>
<circle cx="788.0" cy="651.1" r="4.8" fill="#fde725"/>
<circle cx="789.4" cy="659.1" r="4.8" fill="#fde725"/>
<circle cx="792.1" cy="676.7" r="4.8" fill="#fde725"/>
<circle cx="815.7" cy="685.1" r="4.8" fill="#fde725"/>
<circle cx="867.3" cy="675.3" r="4.8" fill="#fde725"/>
<circle cx="865.2" cy="679.7" r="4.8" fill="#fde725"/>
<circle cx="784.9" cy="721.8" r="4.8" fill="#fde725"/>
<circle cx="761.6" cy="762.7" r="4.8" fill="#fde725"/>
<circle cx="796.6" cy="757.3" r="4.8" fill="#fde725"/>
<circle cx="931.4" cy="736.7" r="4.8" fill="#fde725"/>
<circle cx="889.7" cy="725.9" r="4.8" fill="#fde725"/>
<circle cx="881.1" cy="735.3" r="4.8" fill="#fde725"/>
<circle cx="315.6" cy="805.0" r="4.8" fill="#fde725"/>
<circle cx="415.2" cy="807.9" r="4.8" fill="#fde725"/>
<circle cx="317.9" cy="835.8" r="4.8" fill="#fde725"/>
<circle cx="355.8" cy="855.8" r="4.8" fill="#fde725"/>
<circle cx="380.8" cy="880.0" r="4.8" fill="#fde725"/>
<circle cx="479.7" cy="800.5" r="4.8" fill="#fde725"/>
<circle cx="473.9" cy="808.3" r="4.8" fill="#fde725"/>
<circle cx="499.8" cy="806.7" r="4.8" fill="#fde725"/>
<circle cx="510.5" cy="813.7" r="4.8" fill="#fde725"/>
<circle cx="448.9" cy="818.6" r="4.8" fill="#fde725"/>
<circle cx="473.5" cy="834.2" r="4.8" fill="#fde725"/>
<circle cx="484.6" cy="845.4" r="4.8" fill="#fde725"/>
<circle cx="499.8" cy="850.9" r="4.8" fill="#fde725"/>
<circle cx="551.6" cy="847.4" r="4.8" fill="#fde725"/>
<circle cx="580.2" cy="837.3" r="4.8" fill="#fde725"/>
<circle cx="630.8" cy="838.7" r="4.8" fill="#fde725"/>
<circle cx="641.6" cy="819.0" r="4.8" fill="#fde725"/>
<circle cx="448.9" cy="885.5" r="4.8" fill="#fde725"/>
<circle cx="477.5" cy="878.2" r="4.8" fill="#fde725"/>
<circle cx="685.5" cy="820.6" r="4.8" fill="#fde725"/>
<circle cx="699.4" cy="818.3" r="4.8" fill="#fde725"/>
<circle cx="742.3" cy="824.6" r="4.8" fill="#fde725"/>
<circle cx="243.0" cy="296.4" r="4.8" fill="#fde725"/>
<circle cx="169.5" cy="315.5" r="4.8" fill="#fde725"/>
<circle cx="193.1" cy="325.8" r="4.8" fill="#fde725"/>
<circle cx="243.8" cy="320.5" r="4.8" fill="#fde725"/>
<circle cx="271.0" cy="343.1" r="4.8" fill="#fde725"/>
<circle cx="302.5" cy="334.2" r="4.8" fill="#fde725"/>
<circle cx="299.9" cy="346.7" r="4.8" fill="#fde725"/>
<circle cx="297.7" cy="355.8" r="4.8" fill="#fde725"/>
<circle cx="306.2" cy="354.6" r="4.8" fill="#fde725"/>
<circle cx="244.3" cy="356.5" r="4.8" fill="#fde725"/>
<circle cx="235.0" cy="367.9" r="4.8" fill="#fde725"/>
<circle cx="201.0" cy="371.3" r="4.8" fill="#fde725"/>
<circle cx="272.5" cy="377.0" r="4.8" fill="#fde725"/>
<circle cx="291.0" cy="377.0" r="4.8" fill="#fde725"/>
<circle cx="284.8" cy="389.3" r="4.8" fill="#fde725"/>
<circle cx="205.2" cy="390.1" r="4.8" fill="#fde725"/>
<circle cx="252.3" cy="393.1" r="4.8" fill="#fde725"/>
<circle cx="260.6" cy="392.9" r="4.8" fill="#fde725"/>
<circle cx="315.4" cy="393.1" r="4.8" fill="#fde725"/>
<circle cx="337.0" cy="291.9" r="4.8" fill="#fde725"/>
<circle cx="367.6" cy="286.5" r="4.8" fill="#fde725"/>
<circle cx="363.5" cy="295.5" r="4.8" fill="#fde725"/>
<circle cx="391.4" cy="291.9" r="4.8" fill="#fde725"/>
<circle cx="383.7" cy="303.2" r="4.8" fill="#fde725"/>
<circle cx="380.1" cy="311.2" r="4.8" fill="#fde725"/>
<circle cx="347.6" cy="310.0" r="4.8" fill="#fde725"/>
<circle cx="323.6" cy="334.8" r="4.8" fill="#fde725"/>
<circle cx="334.3" cy="346.7" r="4.8" fill="#fde725"/>
<circle cx="341.2" cy="352.9" r="4.8" fill="#fde725"/>
<circle cx="351.5" cy="359.5" r="4.8" fill="#fde725"/>
<circle cx="364.6" cy="336.0" r="4.8" fill="#fde725"/>
<circle cx="365.2" cy="348.5" r="4.8" fill="#fde725"/>
<circle cx="383.1" cy="356.2" r="4.8" fill="#fde725"/>
<circle cx="396.8" cy="347.3" r="4.8" fill="#fde725"/>
<circle cx="404.5" cy="328.8" r="4.8" fill="#fde725"/>
<circle cx="411.1" cy="307.1" r="4.8" fill="#fde725"/>
<circle cx="415.2" cy="290.7" r="4.8" fill="#fde725"/>
<circle cx="422.0" cy="291.5" r="4.8" fill="#fde725"/>
<circle cx="435.5" cy="285.0" r="4.8" fill="#fde725"/>
<circle cx="434.3" cy="306.0" r="4.8" fill="#fde725"/>
<circle cx="427.1" cy="315.1" r="4.8" fill="#fde725"/>
<circle cx="426.0" cy="322.9" r="4.8" fill="#fde725"/>
<circle cx="468.2" cy="285.4" r="4.8" fill="#fde725"/>
<circle cx="456.9" cy="302.6" r="4.8" fill="#fde725"/>
<circle cx="455.7" cy="309.8" r="4.8" fill="#fde725"/>
<circle cx="460.5" cy="316.9" r="4.8" fill="#fde725"/>
<circle cx="468.8" cy="334.8" r="4.8" fill="#fde725"/>
<circle cx="473.6" cy="339.5" r="4.8" fill="#fde725"/>
<circle cx="440.2" cy="346.1" r="4.8" fill="#fde725"/>
<circle cx="444.4" cy="349.0" r="4.8" fill="#fde725"/>
<circle cx="455.7" cy="349.6" r="4.8" fill="#fde725"/>
<circle cx="463.5" cy="358.6" r="4.8" fill="#fde725"/>
<circle cx="475.4" cy="351.4" r="4.8" fill="#fde725"/>
<circle cx="418.2" cy="359.2" r="4.8" fill="#fde725"/>
<circle cx="431.9" cy="363.9" r="4.8" fill="#fde725"/>
<circle cx="421.2" cy="369.9" r="4.8" fill="#fde725"/>
<circle cx="424.8" cy="377.6" r="4.8" fill="#fde725"/>
<circle cx="430.7" cy="378.8" r="4.8" fill="#fde725"/>
<circle cx="441.4" cy="378.8" r="4.8" fill="#fde725"/>
<circle cx="452.1" cy="371.1" r="4.8" fill="#fde725"/>
<circle cx="459.9" cy="377.0" r="4.8" fill="#fde725"/>
<circle cx="471.2" cy="377.0" r="4.8" fill="#fde725"/>
<circle cx="476.0" cy="368.7" r="4.8" fill="#fde725"/>
<circle cx="456.9" cy="387.1" r="4.8" fill="#fde725"/>
<circle cx="474.8" cy="384.8" r="4.8" fill="#fde725"/>
<circle cx="364.0" cy="371.4" r="4.8" fill="#fde725"/>
<circle cx="367.0" cy="383.6" r="4.8" fill="#fde725"/>
<circle cx="336.1" cy="377.0" r="4.8" fill="#fde725"/>
<circle cx="339.6" cy="384.8" r="4.8" fill="#fde725"/>
<circle cx="400.4" cy="378.8" r="4.8" fill="#fde725"/>
<circle cx="398.0" cy="387.7" r="4.8" fill="#fde725"/>
<circle cx="411.7" cy="376.4" r="4.8" fill="#fde725"/>
<circle cx="408.7" cy="390.7" r="4.8" fill="#fde725"/>
<circle cx="415.2" cy="392.5" r="4.8" fill="#fde725"/>
<circle cx="432.5" cy="392.5" r="4.8" fill="#fde725"/>
<circle cx="491.9" cy="298.1" r="4.8" fill="#fde725"/>
<circle cx="518.7" cy="295.5" r="4.8" fill="#fde725"/>
<circle cx="509.2" cy="306.2" r="4.8" fill="#fde725"/>
<circle cx="528.6" cy="303.8" r="4.8" fill="#fde725"/>
<circle cx="543.9" cy="305.6" r="4.8" fill="#fde725"/>
<circle cx="491.7" cy="314.2" r="4.8" fill="#fde725"/>
<circle cx="501.4" cy="315.7" r="4.8" fill="#fde725"/>
<circle cx="519.9" cy="326.8" r="4.8" fill="#fde725"/>
<circle cx="524.3" cy="332.7" r="4.8" fill="#fde725"/>
<circle cx="533.2" cy="338.3" r="4.8" fill="#fde725"/>
<circle cx="499.0" cy="339.5" r="4.8" fill="#fde725"/>
<circle cx="486.9" cy="342.5" r="4.8" fill="#fde725"/>
<circle cx="499.6" cy="347.9" r="4.8" fill="#fde725"/>
<circle cx="508.6" cy="348.5" r="4.8" fill="#fde725"/>
<circle cx="513.3" cy="347.9" r="4.8" fill="#fde725"/>
<circle cx="520.5" cy="359.8" r="4.8" fill="#fde725"/>
<circle cx="510.4" cy="366.7" r="4.8" fill="#fde725"/>
<circle cx="540.1" cy="353.8" r="4.8" fill="#fde725"/>
<circle cx="537.7" cy="361.9" r="4.8" fill="#fde725"/>
<circle cx="553.0" cy="342.7" r="4.8" fill="#fde725"/>
<circle cx="577.9" cy="300.8" r="4.8" fill="#fde725"/>
<circle cx="582.4" cy="300.2" r="4.8" fill="#fde725"/>
<circle cx="596.3" cy="308.0" r="4.8" fill="#fde725"/>
<circle cx="620.2" cy="298.8" r="4.8" fill="#fde725"/>
<circle cx="638.3" cy="291.9" r="4.8" fill="#fde725"/>
<circle cx="575.2" cy="322.9" r="4.8" fill="#fde725"/>
<circle cx="581.8" cy="321.1" r="4.8" fill="#fde725"/>
<circle cx="578.8" cy="332.0" r="4.8" fill="#fde725"/>
<circle cx="592.5" cy="333.2" r="4.8" fill="#fde725"/>
<circle cx="610.4" cy="333.6" r="4.8" fill="#fde725"/>
<circle cx="613.9" cy="337.7" r="4.8" fill="#fde725"/>
<circle cx="574.6" cy="353.8" r="4.8" fill="#fde725"/>
<circle cx="568.3" cy="358.6" r="4.8" fill="#fde725"/>
<circle cx="585.4" cy="368.7" r="4.8" fill="#fde725"/>
<circle cx="617.5" cy="358.6" r="4.8" fill="#fde725"/>
<circle cx="618.1" cy="363.3" r="4.8" fill="#fde725"/>
<circle cx="609.8" cy="367.9" r="4.8" fill="#fde725"/>
<circle cx="619.3" cy="368.7" r="4.8" fill="#fde725"/>
<circle cx="617.5" cy="377.0" r="4.8" fill="#fde725"/>
<circle cx="601.4" cy="378.2" r="4.8" fill="#fde725"/>
<circle cx="543.1" cy="374.6" r="4.8" fill="#fde725"/>
<circle cx="548.5" cy="384.2" r="4.8" fill="#fde725"/>
<circle cx="555.8" cy="385.0" r="4.8" fill="#fde725"/>
<circle cx="532.4" cy="380.6" r="4.8" fill="#fde725"/>
<circle cx="522.6" cy="379.4" r="4.8" fill="#fde725"/>
<circle cx="510.4" cy="383.0" r="4.8" fill="#fde725"/>
<circle cx="486.8" cy="363.9" r="4.8" fill="#fde725"/>
<circle cx="494.9" cy="365.1" r="4.8" fill="#fde725"/>
<circle cx="495.5" cy="375.2" r="4.8" fill="#fde725"/>
<circle cx="482.4" cy="381.2" r="4.8" fill="#fde725"/>
<circle cx="494.3" cy="383.6" r="4.8" fill="#fde725"/>
<circle cx="570.5" cy="387.1" r="4.8" fill="#fde725"/>
<circle cx="577.6" cy="389.5" r="4.8" fill="#fde725"/>
<circle cx="589.5" cy="384.8" r="4.8" fill="#fde725"/>
<circle cx="602.0" cy="391.3" r="4.8" fill="#fde725"/>
<circle cx="611.0" cy="393.1" r="4.8" fill="#fde725"/>
<circle cx="627.6" cy="392.5" r="4.8" fill="#fde725"/>
<circle cx="660.8" cy="283.6" r="4.8" fill="#fde725"/>
<circle cx="685.8" cy="293.9" r="4.8" fill="#fde725"/>
<circle cx="651.0" cy="308.0" r="4.8" fill="#fde725"/>
<circle cx="651.9" cy="321.1" r="4.8" fill="#fde725"/>
<circle cx="669.2" cy="319.3" r="4.8" fill="#fde725"/>
<circle cx="656.7" cy="331.4" r="4.8" fill="#fde725"/>
<circle cx="660.8" cy="338.3" r="4.8" fill="#fde725"/>
<circle cx="671.9" cy="339.5" r="4.8" fill="#fde725"/>
<circle cx="701.9" cy="309.2" r="4.8" fill="#fde725"/>
<circle cx="711.2" cy="304.6" r="4.8" fill="#fde725"/>
<circle cx="725.7" cy="303.8" r="4.8" fill="#fde725"/>
<circle cx="732.0" cy="284.8" r="4.8" fill="#fde725"/>
<circle cx="753.9" cy="311.2" r="4.8" fill="#fde725"/>
<circle cx="734.0" cy="323.5" r="4.8" fill="#fde725"/>
<circle cx="707.0" cy="336.9" r="4.8" fill="#fde725"/>
<circle cx="699.3" cy="350.8" r="4.8" fill="#fde725"/>
<circle cx="729.9" cy="352.0" r="4.8" fill="#fde725"/>
<circle cx="746.9" cy="348.5" r="4.8" fill="#fde725"/>
<circle cx="761.1" cy="358.0" r="4.8" fill="#fde725"/>
<circle cx="776.3" cy="361.0" r="4.8" fill="#fde725"/>
<circle cx="788.2" cy="319.3" r="4.8" fill="#fde725"/>
<circle cx="787.0" cy="333.6" r="4.8" fill="#fde725"/>
<circle cx="794.5" cy="286.5" r="4.8" fill="#fde725"/>
<circle cx="655.5" cy="362.1" r="4.8" fill="#fde725"/>
<circle cx="665.2" cy="368.1" r="4.8" fill="#fde725"/>
<circle cx="662.0" cy="375.6" r="4.8" fill="#fde725"/>
<circle cx="641.0" cy="358.6" r="4.8" fill="#fde725"/>
<circle cx="727.9" cy="368.1" r="4.8" fill="#fde725"/>
<circle cx="737.6" cy="381.8" r="4.8" fill="#fde725"/>
<circle cx="777.5" cy="382.4" r="4.8" fill="#fde725"/>
<circle cx="783.5" cy="390.7" r="4.8" fill="#fde725"/>
<circle cx="788.8" cy="393.1" r="4.8" fill="#fde725"/>
<circle cx="717.4" cy="383.6" r="4.8" fill="#fde725"/>
<circle cx="710.2" cy="385.4" r="4.8" fill="#fde725"/>
<circle cx="704.3" cy="387.7" r="4.8" fill="#fde725"/>
<circle cx="697.7" cy="390.7" r="4.8" fill="#fde725"/>
<circle cx="666.8" cy="392.5" r="4.8" fill="#fde725"/>
<circle cx="225.5" cy="403.5" r="4.8" fill="#fde725"/>
<circle cx="226.1" cy="407.7" r="4.8" fill="#fde725"/>
<circle cx="273.7" cy="402.6" r="4.8" fill="#fde725"/>
<circle cx="295.7" cy="399.0" r="4.8" fill="#fde725"/>
<circle cx="293.9" cy="408.5" r="4.8" fill="#fde725"/>
<circle cx="287.1" cy="414.8" r="4.8" fill="#fde725"/>
<circle cx="241.5" cy="414.2" r="4.8" fill="#fde725"/>
<circle cx="237.4" cy="420.2" r="4.8" fill="#fde725"/>
<circle cx="202.3" cy="432.1" r="4.8" fill="#fde725"/>
<circle cx="202.3" cy="442.2" r="4.8" fill="#fde725"/>
<circle cx="236.2" cy="436.3" r="4.8" fill="#fde725"/>
<circle cx="244.5" cy="439.2" r="4.8" fill="#fde725"/>
<circle cx="257.6" cy="442.2" r="4.8" fill="#fde725"/>
<circle cx="274.3" cy="429.7" r="4.8" fill="#fde725"/>
<circle cx="279.0" cy="429.7" r="4.8" fill="#fde725"/>
<circle cx="268.9" cy="448.8" r="4.8" fill="#fde725"/>
<circle cx="246.3" cy="451.7" r="4.8" fill="#fde725"/>
<circle cx="251.7" cy="451.1" r="4.8" fill="#fde725"/>
<circle cx="314.8" cy="422.6" r="4.8" fill="#fde725"/>
<circle cx="317.7" cy="429.7" r="4.8" fill="#fde725"/>
<circle cx="306.4" cy="446.4" r="4.8" fill="#fde725"/>
<circle cx="299.3" cy="451.1" r="4.8" fill="#fde725"/>
<circle cx="295.7" cy="454.7" r="4.8" fill="#fde725"/>
<circle cx="318.3" cy="457.7" r="4.8" fill="#fde725"/>
<circle cx="173.7" cy="453.5" r="4.8" fill="#fde725"/>
<circle cx="177.9" cy="457.7" r="4.8" fill="#fde725"/>
<circle cx="200.5" cy="462.5" r="4.8" fill="#fde725"/>
<circle cx="263.0" cy="471.1" r="4.8" fill="#fde725"/>
<circle cx="218.3" cy="477.3" r="4.8" fill="#fde725"/>
<circle cx="226.1" cy="480.3" r="4.8" fill="#fde725"/>
<circle cx="225.5" cy="486.3" r="4.8" fill="#fde725"/>
<circle cx="228.5" cy="491.6" r="4.8" fill="#fde725"/>
<circle cx="274.9" cy="479.1" r="4.8" fill="#fde725"/>
<circle cx="277.3" cy="482.7" r="4.8" fill="#fde725"/>
<circle cx="289.8" cy="466.6" r="4.8" fill="#fde725"/>
<circle cx="295.7" cy="469.0" r="4.8" fill="#fde725"/>
<circle cx="303.5" cy="468.4" r="4.8" fill="#fde725"/>
<circle cx="289.8" cy="479.7" r="4.8" fill="#fde725"/>
<circle cx="299.3" cy="480.9" r="4.8" fill="#fde725"/>
<circle cx="293.9" cy="488.6" r="4.8" fill="#fde725"/>
<circle cx="267.1" cy="489.2" r="4.8" fill="#fde725"/>
<circle cx="273.7" cy="497.6" r="4.8" fill="#fde725"/>
<circle cx="302.9" cy="498.8" r="4.8" fill="#fde725"/>
<circle cx="316.0" cy="501.1" r="4.8" fill="#fde725"/>
<circle cx="171.3" cy="488.6" r="4.8" fill="#fde725"/>
<circle cx="175.5" cy="504.1" r="4.8" fill="#fde725"/>
<circle cx="199.3" cy="502.9" r="4.8" fill="#fde725"/>
<circle cx="224.9" cy="502.9" r="4.8" fill="#fde725"/>
<circle cx="244.5" cy="502.3" r="4.8" fill="#fde725"/>
<circle cx="258.2" cy="504.7" r="4.8" fill="#fde725"/>
<circle cx="401.0" cy="399.4" r="4.8" fill="#fde725"/>
<circle cx="426.0" cy="397.6" r="4.8" fill="#fde725"/>
<circle cx="338.8" cy="407.7" r="4.8" fill="#fde725"/>
<circle cx="356.3" cy="405.9" r="4.8" fill="#fde725"/>
<circle cx="348.6" cy="420.8" r="4.8" fill="#fde725"/>
<circle cx="352.1" cy="418.4" r="4.8" fill="#fde725"/>
<circle cx="373.6" cy="417.8" r="4.8" fill="#fde725"/>
<circle cx="372.4" cy="429.7" r="4.8" fill="#fde725"/>
<circle cx="326.0" cy="446.4" r="4.8" fill="#fde725"/>
<circle cx="346.2" cy="447.0" r="4.8" fill="#fde725"/>
<circle cx="356.9" cy="452.3" r="4.8" fill="#fde725"/>
<circle cx="364.0" cy="445.2" r="4.8" fill="#fde725"/>
<circle cx="328.3" cy="470.2" r="4.8" fill="#fde725"/>
<circle cx="323.6" cy="475.0" r="4.8" fill="#fde725"/>
<circle cx="337.9" cy="486.3" r="4.8" fill="#fde725"/>
<circle cx="389.0" cy="454.1" r="4.8" fill="#fde725"/>
<circle cx="400.4" cy="459.5" r="4.8" fill="#fde725"/>
<circle cx="404.5" cy="466.6" r="4.8" fill="#fde725"/>
<circle cx="370.0" cy="466.6" r="4.8" fill="#fde725"/>
<circle cx="379.5" cy="465.4" r="4.8" fill="#fde725"/>
<circle cx="376.5" cy="475.0" r="4.8" fill="#fde725"/>
<circle cx="378.9" cy="480.3" r="4.8" fill="#fde725"/>
<circle cx="378.9" cy="490.4" r="4.8" fill="#fde725"/>
<circle cx="361.1" cy="494.0" r="4.8" fill="#fde725"/>
<circle cx="365.2" cy="501.1" r="4.8" fill="#fde725"/>
<circle cx="361.7" cy="504.1" r="4.8" fill="#fde725"/>
<circle cx="377.1" cy="504.1" r="4.8" fill="#fde725"/>
<circle cx="405.7" cy="488.0" r="4.8" fill="#fde725"/>
<circle cx="405.7" cy="492.8" r="4.8" fill="#fde725"/>
<circle cx="417.6" cy="500.0" r="4.8" fill="#fde725"/>
<circle cx="425.4" cy="495.2" r="4.8" fill="#fde725"/>
<circle cx="434.9" cy="499.4" r="4.8" fill="#fde725"/>
<circle cx="421.2" cy="456.5" r="4.8" fill="#fde725"/>
<circle cx="423.6" cy="465.4" r="4.8" fill="#fde725"/>
<circle cx="416.4" cy="471.4" r="4.8" fill="#fde725"/>
<circle cx="417.6" cy="476.1" r="4.8" fill="#fde725"/>
<circle cx="423.6" cy="478.5" r="4.8" fill="#fde725"/>
<circle cx="430.1" cy="475.0" r="4.8" fill="#fde725"/>
<circle cx="434.3" cy="479.7" r="4.8" fill="#fde725"/>
<circle cx="437.9" cy="486.3" r="4.8" fill="#fde725"/>
<circle cx="446.2" cy="492.8" r="4.8" fill="#fde725"/>
<circle cx="452.1" cy="498.2" r="4.8" fill="#fde725"/>
<circle cx="440.2" cy="466.0" r="4.8" fill="#fde725"/>
<circle cx="451.0" cy="447.0" r="4.8" fill="#fde725"/>
<circle cx="461.7" cy="445.8" r="4.8" fill="#fde725"/>
<circle cx="468.8" cy="463.6" r="4.8" fill="#fde725"/>
<circle cx="455.7" cy="476.1" r="4.8" fill="#fde725"/>
<circle cx="462.9" cy="475.0" r="4.8" fill="#fde725"/>
<circle cx="452.1" cy="479.1" r="4.8" fill="#fde725"/>
<circle cx="433.1" cy="440.4" r="4.8" fill="#fde725"/>
<circle cx="427.7" cy="444.0" r="4.8" fill="#fde725"/>
<circle cx="418.8" cy="438.0" r="4.8" fill="#fde725"/>
<circle cx="526.4" cy="395.8" r="4.8" fill="#fde725"/>
<circle cx="540.1" cy="401.1" r="4.8" fill="#fde725"/>
<circle cx="553.2" cy="404.1" r="4.8" fill="#fde725"/>
<circle cx="559.2" cy="401.1" r="4.8" fill="#fde725"/>
<circle cx="569.3" cy="395.8" r="4.8" fill="#fde725"/>
<circle cx="605.0" cy="397.6" r="4.8" fill="#fde725"/>
<circle cx="617.5" cy="404.1" r="4.8" fill="#fde725"/>
<circle cx="626.4" cy="398.2" r="4.8" fill="#fde725"/>
<circle cx="519.9" cy="413.0" r="4.8" fill="#fde725"/>
<circle cx="544.3" cy="417.8" r="4.8" fill="#fde725"/>
<circle cx="559.2" cy="421.4" r="4.8" fill="#fde725"/>
<circle cx="582.4" cy="411.9" r="4.8" fill="#fde725"/>
<circle cx="588.3" cy="409.5" r="4.8" fill="#fde725"/>
<circle cx="591.3" cy="414.2" r="4.8" fill="#fde725"/>
<circle cx="580.6" cy="423.2" r="4.8" fill="#fde725"/>
<circle cx="605.0" cy="420.2" r="4.8" fill="#fde725"/>
<circle cx="599.0" cy="429.7" r="4.8" fill="#fde725"/>
<circle cx="621.1" cy="425.0" r="4.8" fill="#fde725"/>
<circle cx="622.9" cy="429.7" r="4.8" fill="#fde725"/>
<circle cx="594.9" cy="444.0" r="4.8" fill="#fde725"/>
<circle cx="551.4" cy="439.8" r="4.8" fill="#fde725"/>
<circle cx="484.8" cy="441.6" r="4.8" fill="#fde725"/>
<circle cx="493.1" cy="448.8" r="4.8" fill="#fde725"/>
<circle cx="503.8" cy="443.4" r="4.8" fill="#fde725"/>
<circle cx="515.1" cy="442.8" r="4.8" fill="#fde725"/>
<circle cx="541.9" cy="450.0" r="4.8" fill="#fde725"/>
<circle cx="553.8" cy="456.5" r="4.8" fill="#fde725"/>
<circle cx="558.6" cy="458.9" r="4.8" fill="#fde725"/>
<circle cx="577.0" cy="458.3" r="4.8" fill="#fde725"/>
<circle cx="611.0" cy="460.7" r="4.8" fill="#fde725"/>
<circle cx="504.4" cy="460.7" r="4.8" fill="#fde725"/>
<circle cx="500.2" cy="468.4" r="4.8" fill="#fde725"/>
<circle cx="515.7" cy="459.5" r="4.8" fill="#fde725"/>
<circle cx="522.3" cy="457.7" r="4.8" fill="#fde725"/>
<circle cx="518.1" cy="469.0" r="4.8" fill="#fde725"/>
<circle cx="527.0" cy="469.6" r="4.8" fill="#fde725"/>
<circle cx="555.6" cy="468.4" r="4.8" fill="#fde725"/>
<circle cx="484.8" cy="471.4" r="4.8" fill="#fde725"/>
<circle cx="496.7" cy="482.7" r="4.8" fill="#fde725"/>
<circle cx="529.4" cy="482.1" r="4.8" fill="#fde725"/>
<circle cx="543.1" cy="479.7" r="4.8" fill="#fde725"/>
<circle cx="547.3" cy="479.7" r="4.8" fill="#fde725"/>
<circle cx="550.2" cy="483.3" r="4.8" fill="#fde725"/>
<circle cx="536.0" cy="490.4" r="4.8" fill="#fde725"/>
<circle cx="544.3" cy="499.4" r="4.8" fill="#fde725"/>
<circle cx="559.8" cy="481.5" r="4.8" fill="#fde725"/>
<circle cx="576.4" cy="479.1" r="4.8" fill="#fde725"/>
<circle cx="572.9" cy="485.7" r="4.8" fill="#fde725"/>
<circle cx="587.1" cy="472.6" r="4.8" fill="#fde725"/>
<circle cx="594.3" cy="476.1" r="4.8" fill="#fde725"/>
<circle cx="597.9" cy="480.9" r="4.8" fill="#fde725"/>
<circle cx="600.2" cy="488.0" r="4.8" fill="#fde725"/>
<circle cx="603.8" cy="470.2" r="4.8" fill="#fde725"/>
<circle cx="614.5" cy="471.1" r="4.8" fill="#fde725"/>
<circle cx="611.0" cy="485.7" r="4.8" fill="#fde725"/>
<circle cx="625.2" cy="486.9" r="4.8" fill="#fde725"/>
<circle cx="620.5" cy="490.4" r="4.8" fill="#fde725"/>
<circle cx="637.1" cy="472.6" r="4.8" fill="#fde725"/>
<circle cx="636.0" cy="496.4" r="4.8" fill="#fde725"/>
<circle cx="608.6" cy="497.6" r="4.8" fill="#fde725"/>
<circle cx="613.3" cy="501.1" r="4.8" fill="#fde725"/>
<circle cx="624.6" cy="503.5" r="4.8" fill="#fde725"/>
<circle cx="589.5" cy="500.0" r="4.8" fill="#fde725"/>
<circle cx="596.7" cy="499.4" r="4.8" fill="#fde725"/>
<circle cx="579.4" cy="502.9" r="4.8" fill="#fde725"/>
<circle cx="569.9" cy="498.2" r="4.8" fill="#fde725"/>
<circle cx="530.0" cy="505.3" r="4.8" fill="#fde725"/>
<circle cx="503.8" cy="504.1" r="4.8" fill="#fde725"/>
<circle cx="662.6" cy="400.5" r="4.8" fill="#fde725"/>
<circle cx="681.7" cy="404.5" r="4.8" fill="#fde725"/>
<circle cx="707.9" cy="399.7" r="4.8" fill="#fde725"/>
<circle cx="741.2" cy="406.9" r="4.8" fill="#fde725"/>
<circle cx="654.9" cy="414.2" r="4.8" fill="#fde725"/>
<circle cx="651.9" cy="420.2" r="4.8" fill="#fde725"/>
<circle cx="670.1" cy="419.6" r="4.8" fill="#fde725"/>
<circle cx="707.9" cy="422.6" r="4.8" fill="#fde725"/>
<circle cx="721.9" cy="420.2" r="4.8" fill="#fde725"/>
<circle cx="729.3" cy="414.5" r="4.8" fill="#fde725"/>
<circle cx="769.5" cy="417.2" r="4.8" fill="#fde725"/>
<circle cx="778.1" cy="415.4" r="4.8" fill="#fde725"/>
<circle cx="798.3" cy="417.8" r="4.8" fill="#fde725"/>
<circle cx="680.5" cy="435.7" r="4.8" fill="#fde725"/>
<circle cx="732.3" cy="439.8" r="4.8" fill="#fde725"/>
<circle cx="766.8" cy="434.5" r="4.8" fill="#fde725"/>
<circle cx="774.5" cy="434.5" r="4.8" fill="#fde725"/>
<circle cx="783.5" cy="433.9" r="4.8" fill="#fde725"/>
<circle cx="792.1" cy="429.7" r="4.8" fill="#fde725"/>
<circle cx="760.2" cy="441.4" r="4.8" fill="#fde725"/>
<circle cx="774.5" cy="443.4" r="4.8" fill="#fde725"/>
<circle cx="779.3" cy="452.3" r="4.8" fill="#fde725"/>
<circle cx="668.6" cy="446.4" r="4.8" fill="#fde725"/>
<circle cx="670.4" cy="450.5" r="4.8" fill="#fde725"/>
<circle cx="720.4" cy="450.0" r="4.8" fill="#fde725"/>
<circle cx="724.5" cy="459.5" r="4.8" fill="#fde725"/>
<circle cx="724.5" cy="464.2" r="4.8" fill="#fde725"/>
<circle cx="739.4" cy="455.7" r="4.8" fill="#fde725"/>
<circle cx="678.7" cy="460.7" r="4.8" fill="#fde725"/>
<circle cx="660.2" cy="465.4" r="4.8" fill="#fde725"/>
<circle cx="691.2" cy="464.8" r="4.8" fill="#fde725"/>
<circle cx="699.5" cy="468.4" r="4.8" fill="#fde725"/>
<circle cx="734.6" cy="474.7" r="4.8" fill="#fde725"/>
<circle cx="727.5" cy="485.1" r="4.8" fill="#fde725"/>
<circle cx="643.0" cy="473.8" r="4.8" fill="#fde725"/>
<circle cx="651.3" cy="480.9" r="4.8" fill="#fde725"/>
<circle cx="665.6" cy="485.7" r="4.8" fill="#fde725"/>
<circle cx="670.4" cy="485.7" r="4.8" fill="#fde725"/>
<circle cx="671.5" cy="497.6" r="4.8" fill="#fde725"/>
<circle cx="694.8" cy="488.0" r="4.8" fill="#fde725"/>
<circle cx="706.1" cy="496.1" r="4.8" fill="#fde725"/>
<circle cx="717.4" cy="497.0" r="4.8" fill="#fde725"/>
<circle cx="697.7" cy="503.5" r="4.8" fill="#fde725"/>
<circle cx="684.0" cy="505.3" r="4.8" fill="#fde725"/>
<circle cx="672.7" cy="505.3" r="4.8" fill="#fde725"/>
<circle cx="641.2" cy="496.4" r="4.8" fill="#fde725"/>
<circle cx="762.6" cy="488.6" r="4.8" fill="#fde725"/>
<circle cx="771.5" cy="483.9" r="4.8" fill="#fde725"/>
<circle cx="768.3" cy="498.2" r="4.8" fill="#fde725"/>
<circle cx="518.8" cy="511.5" r="4.8" fill="#fde725"/>
<circle cx="524" cy="522.5" r="4.8" fill="#fde725"/>
<circle cx="531.5" cy="523.5" r="4.8" fill="#fde725"/>
<circle cx="444.5" cy="526.5" r="4.8" fill="#fde725"/>
<circle cx="440" cy="536.5" r="4.8" fill="#fde725"/>
<circle cx="458.5" cy="540" r="4.8" fill="#fde725"/>
<circle cx="453.9" cy="554.1" r="4.8" fill="#fde725"/>
<circle cx="496" cy="537.1" r="4.8" fill="#fde725"/>
<circle cx="596.8" cy="618.3" r="4.8" fill="#fde725"/>
<circle cx="594.7" cy="628.2" r="4.8" fill="#fde725"/>
<circle cx="606.1" cy="626.1" r="4.8" fill="#fde725"/>
<circle cx="612.9" cy="629.8" r="4.8" fill="#fde725"/>
<circle cx="638.4" cy="623.5" r="4.8" fill="#fde725"/>
<circle cx="548.9" cy="627.2" r="4.8" fill="#fde725"/>
<circle cx="553" cy="604.8" r="4.8" fill="#fde725"/>
</g>
<!-- legend -->
<rect x="1042" y="195.4" width="37" height="19.6" fill="#000"/>
<line x1="1042" y1="312.3" x2="1079" y2="312.3" stroke="#777" stroke-width="3"/>
<circle cx="1060.5" cy="419.5" r="4.8" fill="#000"/>
<circle cx="1060.5" cy="465.5" r="12.9" fill="#000"/>
<circle cx="1060.4" cy="511.5" r="16.1" fill="#000"/>
<circle cx="1060.4" cy="557.5" r="18.6" fill="#000"/>
<rect x="1037.5" y="641.9" width="46.2" height="230.1" fill="url(#vir)"/>
<g stroke="#fff" stroke-opacity="0.8" stroke-width="1.4">
<path d="M1037.5 641.9h9.4M1074.3 641.9h9.4M1037.5 699.4h9.4M1074.3 699.4h9.4M1037.5 756.9h9.4M1074.3 756.9h9.4M1037.5 814.4h9.4M1074.3 814.4h9.4"/>
</g>
</svg>
<div class="t" id="title" style="left:0px;top:11px;font-size:35.4px;">Refined Network Graph of Atypical Business Transactions</div>
<div class="t" id="sub" style="left:0px;top:58px;font-size:29.3px;">Nodes colored by closeness centrality and sized by betweenness centrality</div>
<div class="t lt" style="left:1037px;top:139.9px;">edge_width</div>
<div class="t ll" style="left:1097.8px;top:195.0px;">0.8</div>
<div class="t lt" style="left:1037px;top:246.6px;">edge_alpha</div>
<div class="t ll" style="left:1097.8px;top:302.2px;">0.8</div>
<div class="t lt" style="left:1037px;top:353.9px;">betweenness_centrality</div>
<div class="t ll" style="left:1097.8px;top:409.1px;">0e+00</div>
<div class="t ll" style="left:1097.8px;top:455.1px;">1e+07</div>
<div class="t ll" style="left:1097.8px;top:501.8px;">2e+07</div>
<div class="t ll" style="left:1097.8px;top:547.4px;">3e+07</div>
<div class="t lt" style="left:1037px;top:599.9px;">closeness_centrality</div>
<div class="t ll" style="left:1097.8px;top:631.8px;">1.00</div>
<div class="t ll" style="left:1097.8px;top:688.1px;">0.75</div>
<div class="t ll" style="left:1097.8px;top:747.2px;">0.50</div>
<div class="t ll" style="left:1097.8px;top:804.0px;">0.25</div>
<div class="t" id="cap" style="left:784px;top:936.8px;font-size:23.7px;">Data Source: mc3.json</div>
</body></html>
